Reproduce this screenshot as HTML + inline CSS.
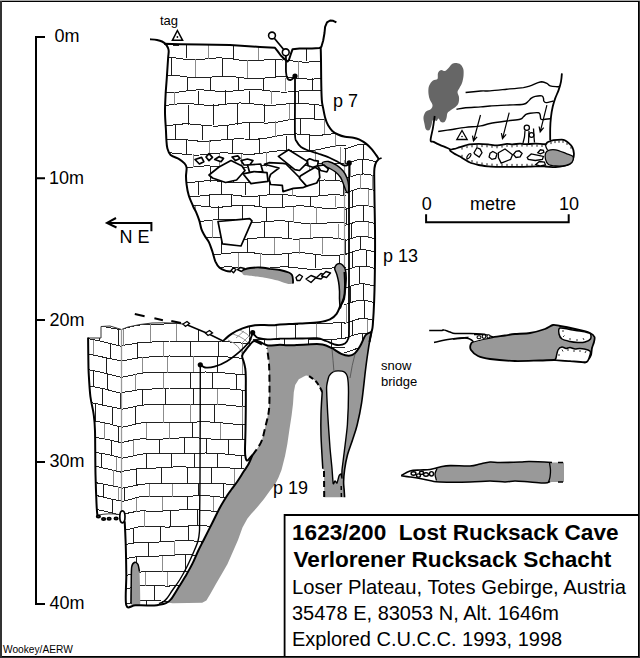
<!DOCTYPE html>
<html><head><meta charset="utf-8"><style>
html,body{margin:0;padding:0;background:#fff;overflow:hidden}
svg{display:block}
text{font-family:"Liberation Sans",sans-serif;fill:#000}
</style></head><body>
<svg width="640" height="658" viewBox="0 0 640 658">
<rect x="0" y="0" width="640" height="658" fill="#333"/>
<rect x="0" y="0" width="640" height="1" fill="#aaa"/>
<rect x="2" y="1" width="637" height="656" fill="#000"/>
<rect x="2" y="2" width="636" height="654" fill="#fff"/>

<defs><clipPath id="cu"><path d="M165,44 L200,44.5 230,45 260,47 275,48 278,51 281,55.5 285,59.5 288.9,61 290.7,54.2 292.6,49.3 299.5,48.6 312,48.4 320.7,48 321,60 321.2,80 321.8,100 323.2,108.4 325.3,118.3 328.1,125.3 332.3,130.9 338,134.5 345,136.8 353.4,137.7 359,139.4 366,143.6 371.7,149.2 376,154.9 378.8,159 375.5,163 374.2,175 374.5,200 375,230 375,260 374,300 372.5,325 371.5,332 365.7,335 360,346 354.4,353.8 348.8,355.7 341.3,353.8 331.9,348.2 322.5,344.4 307.5,344.4 288.8,345.3 270,347.2 267,346 262.8,343.3 256.6,340.6 254.3,340.9 250.1,344.6 245.8,349.9 242.1,355.6 243.7,361.6 245.3,369 245.8,377.6 245.8,405 245.5,430 245,450 245.5,457 247,461 248.7,463.8 244,471 237.5,481.2 231.4,489.5 227.5,495 220,507.5 212.5,522.5 204.3,538.7 198,551.2 192.3,563.9 185.3,576.6 178.3,587.8 171.2,599 166,603.2 151,605.6 135.6,605.2 126.3,605 126.3,575 125.7,543.8 124.7,521.4 123,519 116,520 98,518 97.4,515 96.5,503 95.5,474.5 95,431 93.6,413.8 90.4,396.5 88.7,373.4 88.3,355 88.1,338 101,338 101,326.5 110,326 121.5,329.5 128,327 140,324.5 152,323 164,322.8 176,323.2 186.2,324.5 208.9,334 223,341 231.6,333.9 242.5,328.4 255,325.3 264.4,325 273.8,325.3 280,324.5 300,323.5 318.8,322.2 330,319.4 336.6,313.8 340.3,306 344,298.8 345,285 345,272.5 341.5,265.5 337,266 335.6,268.8 330,271 318,272 307,274 296,274.5 293,276 288,272 275,269 260,268 245,267.5 232,270.5 226,270.9 219.6,267.7 215.3,261.3 212.1,250.6 208.9,242.1 204.7,235.7 201.5,229.4 199.4,220.9 196.2,212.3 193,206 188.7,195.3 186.6,184.7 186,176.2 186.6,167.7 184.5,163.4 179.1,159.1 170.6,154.9 167.4,148.5 166.4,140 166,131.2 165,113 165.6,94.7 166.9,76.5 168.1,58.2 168.7,51Z"/></clipPath></defs>
<path d="M165,44 L200,44.5 230,45 260,47 275,48 278,51 281,55.5 285,59.5 288.9,61 290.7,54.2 292.6,49.3 299.5,48.6 312,48.4 320.7,48 321,60 321.2,80 321.8,100 323.2,108.4 325.3,118.3 328.1,125.3 332.3,130.9 338,134.5 345,136.8 353.4,137.7 359,139.4 366,143.6 371.7,149.2 376,154.9 378.8,159 375.5,163 374.2,175 374.5,200 375,230 375,260 374,300 372.5,325 371.5,332 365.7,335 360,346 354.4,353.8 348.8,355.7 341.3,353.8 331.9,348.2 322.5,344.4 307.5,344.4 288.8,345.3 270,347.2 267,346 262.8,343.3 256.6,340.6 254.3,340.9 250.1,344.6 245.8,349.9 242.1,355.6 243.7,361.6 245.3,369 245.8,377.6 245.8,405 245.5,430 245,450 245.5,457 247,461 248.7,463.8 244,471 237.5,481.2 231.4,489.5 227.5,495 220,507.5 212.5,522.5 204.3,538.7 198,551.2 192.3,563.9 185.3,576.6 178.3,587.8 171.2,599 166,603.2 151,605.6 135.6,605.2 126.3,605 126.3,575 125.7,543.8 124.7,521.4 123,519 116,520 98,518 97.4,515 96.5,503 95.5,474.5 95,431 93.6,413.8 90.4,396.5 88.7,373.4 88.3,355 88.1,338 101,338 101,326.5 110,326 121.5,329.5 128,327 140,324.5 152,323 164,322.8 176,323.2 186.2,324.5 208.9,334 223,341 231.6,333.9 242.5,328.4 255,325.3 264.4,325 273.8,325.3 280,324.5 300,323.5 318.8,322.2 330,319.4 336.6,313.8 340.3,306 344,298.8 345,285 345,272.5 341.5,265.5 337,266 335.6,268.8 330,271 318,272 307,274 296,274.5 293,276 288,272 275,269 260,268 245,267.5 232,270.5 226,270.9 219.6,267.7 215.3,261.3 212.1,250.6 208.9,242.1 204.7,235.7 201.5,229.4 199.4,220.9 196.2,212.3 193,206 188.7,195.3 186.6,184.7 186,176.2 186.6,167.7 184.5,163.4 179.1,159.1 170.6,154.9 167.4,148.5 166.4,140 166,131.2 165,113 165.6,94.7 166.9,76.5 168.1,58.2 168.7,51Z" fill="#fff"/>
<g clip-path="url(#cu)" shape-rendering="crispEdges">
<path d="M160,43.8 L164,44.2 168,44.7 172,45 176,45.1 180,45 184,44.7 188,44.3 192,43.8 196,43.4 200,43 204,42.9 208,43 212,43.3 216,43.7 220,44.2 224,44.6 228,45 232,45.1 236,45 240,44.8 244,44.3 248,43.9 252,43.4 256,43.1 260,42.9 264,43 268,43.2 272,43.6 276,44.1 280,44.6 284,44.9 288,45.1 292,45.1 296,44.8 300,44.4 304,43.9 308,43.5 312,43.1 316,42.9 320,42.9 324,43.2 328,43.6 332,44 336,44.5 340,44.9 344,45.1 346,45.1" stroke="#222" stroke-width="1" fill="none"/>
<path d="M160,57 L164,57 168,57.1 172,57.5 176,58 180,58.5 184,59.1 188,59.4 192,59.6 196,59.6 200,59.4 204,59.1 208,58.6 212,58.3 216,58 220,57.9 224,58.1 228,58.4 232,58.9 236,59.5 240,60.1 244,60.5 248,60.8 252,60.8 256,60.7 260,60.3 264,60 268,59.6 272,59.4 276,59.3 280,59.4 284,59.8 288,60.3 292,60.9 296,61.4 300,61.9 304,62.1 308,62.1 312,61.8 316,61.4 320,61 324,60.5 328,60.1 332,59.9 336,59.9 340,60.2 344,60.5 346,60.8" stroke="#222" stroke-width="1" fill="none"/>
<path d="M160,75.4 L164,75.1 168,75.1 172,75.2 176,75.5 180,76 184,76.6 188,77.1 192,77.6 196,77.8 200,77.8 204,77.7 208,77.4 212,77 216,76.6 220,76.3 224,76.2 228,76.3 232,76.6 236,77 240,77.5 244,78 248,78.4 252,78.7 256,78.7 260,78.5 264,78.1 268,77.7 272,77.3 276,76.9 280,76.8 284,76.8 288,77 292,77.4 296,78 300,78.5 304,78.8 308,79.1 312,79.1 316,78.9 320,78.5 324,78 328,77.6 332,77.2 336,76.9 340,76.9 344,77.1 346,77.3" stroke="#222" stroke-width="1" fill="none"/>
<path d="M160,92.6 L164,92.8 168,92.9 172,92.7 176,92.4 180,91.9 184,91.3 188,90.8 192,90.3 196,90 200,89.9 204,90 208,90.3 212,90.7 216,91.1 220,91.3 224,91.4 228,91.3 232,91.1 236,90.8 240,90.4 244,90 248,89.6 252,89.5 256,89.5 260,89.8 264,90.2 268,90.8 272,91.3 276,91.8 280,92 284,92.1 288,92 292,91.7 296,91.3 300,90.9 304,90.5 308,90.2 312,90.1 316,90.3 320,90.6 324,91 328,91.5 332,91.9 336,92.1 340,92.2 344,92 346,91.8" stroke="#222" stroke-width="1" fill="none"/>
<path d="M160,106 L164,105.6 168,105.1 172,104.6 176,104.1 180,103.7 184,103.6 188,103.6 192,103.8 196,104.2 200,104.6 204,105 208,105.3 212,105.4 216,105.2 220,104.9 224,104.4 228,103.8 232,103.4 236,103.1 240,103 244,103.1 248,103.4 252,103.8 256,104.3 260,104.8 264,105.1 268,105.3 272,105.3 276,105 280,104.6 284,104.2 288,103.8 292,103.4 296,103.3 300,103.4 304,103.6 308,103.9 312,104.4 316,104.8 320,105.1 324,105.3 328,105.2 332,105 336,104.5 340,104 344,103.5 346,103.3" stroke="#222" stroke-width="1" fill="none"/>
<path d="M160,126.1 L164,125.9 168,125.5 172,125.1 176,124.6 180,124.2 184,123.9 188,123.9 192,124.1 196,124.4 200,124.9 204,125.4 208,125.8 212,126 216,126.1 220,125.9 224,125.6 228,125.1 232,124.5 236,123.8 240,123.2 244,122.8 248,122.6 252,122.6 256,122.8 260,122.9 264,123 268,123 272,122.7 276,122.3 280,121.6 284,120.9 288,120.1 292,119.3 296,118.7 300,118.3 304,118.3 308,118.5 312,118.8 316,119.2 320,119.5 324,119.7 328,119.7 332,119.5 336,119.1 340,118.5 344,117.9 346,117.7" stroke="#222" stroke-width="1" fill="none"/>
<path d="M160,140.1 L164,139.7 168,139.3 172,139 176,139 180,139.2 184,139.5 188,140 192,140.5 196,140.9 200,141.2 204,141.3 208,141.2 212,140.9 216,140.5 220,140.1 224,139.7 228,139.4 232,139.1 236,138.9 240,138.9 244,139 248,139.1 252,139.2 256,139.2 260,138.9 264,138.5 268,137.8 272,137.1 276,136.2 280,135.5 284,134.8 288,134.3 292,134.1 296,134 300,134.1 304,134.5 308,134.9 312,135.2 316,135.3 320,135.2 324,134.9 328,134.4 332,133.9 336,133.4 340,133 344,132.8 346,132.8" stroke="#222" stroke-width="1" fill="none"/>
<path d="M160,153.3 L164,153 168,152.9 172,153 176,153.4 180,153.8 184,154.3 188,154.7 192,155 196,155.1 200,155 204,154.7 208,154.2 212,153.7 216,153.3 220,153 224,152.9 228,153 232,153.2 236,153.5 240,153.8 244,154.1 248,154.2 252,154.2 256,153.9 260,153.4 264,152.8 268,152.2 272,151.6 276,151.1 280,150.8 284,150.7 288,150.8 292,151 296,151.3 300,151.6 304,151.5 308,151.2 312,150.7 316,150 320,149.2 324,148.2 328,147.3 332,146.6 336,145.9 340,145.6 344,145.4 346,145.3" stroke="#222" stroke-width="1" fill="none"/>
<path d="M160,166.5 L164,167 168,167.4 172,167.8 176,168.1 180,168.1 184,167.9 188,167.5 192,167.1 196,166.6 200,166.2 204,166 208,165.9 212,166.1 216,166.4 220,166.9 224,167.4 228,167.8 232,168 236,168 240,167.8 244,167.4 248,166.9 252,166.3 256,165.9 260,165.5 264,165.4 268,165.5 272,165.8 276,166.2 280,166.6 284,167 288,167.2 292,167.2 296,167 300,166.7 304,165.9 308,165.1 312,164.3 316,163.7 320,163.3 324,163.1 328,163.1 332,163.2 336,163.4 340,163.5 344,163.5 346,163.4" stroke="#222" stroke-width="1" fill="none"/>
<path d="M160,181.1 L164,181.5 168,182 172,182.4 176,182.8 180,183 184,183 188,182.8 192,182.4 196,181.9 200,181.4 204,181 208,180.7 212,180.7 216,180.9 220,181.2 224,181.7 228,182.1 232,182.5 236,182.7 240,182.8 244,182.6 248,182.3 252,181.8 256,181.3 260,180.9 264,180.7 268,180.6 272,180.8 276,181.1 280,181.6 284,182 288,182.5 292,182.7 296,182.8 300,182.7 304,182.2 308,181.7 312,181.1 316,180.6 320,180.2 324,180 328,180.1 332,180.3 336,180.6 340,181 344,181.4 346,181.5" stroke="#222" stroke-width="1" fill="none"/>
<path d="M160,194.1 L164,193.9 168,194 172,194.3 176,194.7 180,195.2 184,195.7 188,196 192,196.2 196,196.2 200,196 204,195.6 208,195.1 212,194.7 216,194.3 220,194.2 224,194.2 228,194.5 232,194.9 236,195.4 240,195.9 244,196.2 248,196.4 252,196.4 256,196.2 260,195.8 264,195.4 268,194.9 272,194.5 276,194.4 280,194.4 284,194.6 288,195 292,195.5 296,196 300,196.3 304,196.6 308,196.7 312,196.5 316,196.2 320,195.7 324,195.3 328,195 332,194.8 336,194.8 340,195 344,195.4 346,195.6" stroke="#222" stroke-width="1" fill="none"/>
<path d="M160,207.1 L164,207 168,206.7 172,206.2 176,205.7 180,205.3 184,205.1 188,205 192,205.1 196,205.4 200,205.9 204,206.4 208,206.8 212,207.1 216,207.3 220,207.2 224,206.9 228,206.4 232,206 236,205.6 240,205.3 244,205.3 248,205.4 252,205.7 256,206.2 260,206.8 264,207.2 268,207.6 272,207.8 276,207.7 280,207.5 284,207.1 288,206.7 292,206.3 296,206 300,205.9 304,206 308,206.3 312,206.8 316,207.3 320,207.8 324,208.2 328,208.4 332,208.4 336,208.1 340,207.8 344,207.3 346,207.1" stroke="#222" stroke-width="1" fill="none"/>
<path d="M160,219.4 L164,219.1 168,218.9 172,219 176,219.3 180,219.7 184,220.2 188,220.7 192,221.1 196,221.2 200,221.2 204,221 208,220.6 212,220.1 216,219.7 220,219.4 224,219.2 228,219.2 232,219.5 236,220.1 240,220.7 244,221.3 248,221.7 252,222.1 256,222.2 260,222.1 264,221.8 268,221.5 272,221.1 276,220.9 280,220.8 284,220.9 288,221.3 292,221.8 296,222.3 300,222.9 304,223.5 308,223.8 312,223.9 316,223.9 320,223.6 324,223.3 328,222.9 332,222.6 336,222.5 340,222.6 344,222.9 346,223.1" stroke="#222" stroke-width="1" fill="none"/>
<path d="M160,237 L164,237.4 168,237.9 172,238.4 176,238.8 180,239.1 184,239.2 188,239.1 192,238.8 196,238.4 200,238 204,237.6 208,237.3 212,237.2 216,237.3 220,237.7 224,238.1 228,238.6 232,239.1 236,239.3 240,239.4 244,239.3 248,239 252,238.6 256,238.1 260,237.6 264,237.2 268,237.1 272,237.1 276,237.4 280,237.8 284,238.3 288,238.7 292,239 296,239.1 300,239 304,238.8 308,238.5 312,238.1 316,237.7 320,237.5 324,237.4 328,237.5 332,237.9 336,238.3 340,238.9 344,239.4 346,239.7" stroke="#222" stroke-width="1" fill="none"/>
<path d="M160,254.1 L164,253.9 168,253.6 172,253.1 176,252.7 180,252.3 184,252 188,252 192,252.2 196,252.5 200,253 204,253.5 208,253.9 212,254.2 216,254.3 220,254.1 224,253.8 228,253.4 232,252.9 236,252.5 240,252.3 244,252.2 248,252.4 252,252.7 256,253.2 260,253.7 264,254.2 268,254.5 272,254.6 276,254.5 280,254.3 284,253.8 288,253.4 292,253 296,252.7 300,252.7 304,252.9 308,253.3 312,253.8 316,254.4 320,254.9 324,255.3 328,255.5 332,255.6 336,255.4 340,255 344,254.7 346,254.5" stroke="#222" stroke-width="1" fill="none"/>
<path d="M160,267.7 L164,267.2 168,267 172,266.9 176,267 180,267.4 184,267.8 188,268.3 192,268.7 196,269 200,269.1 204,269 208,268.6 212,268.2 216,267.7 220,267.3 224,267 228,266.9 232,267 236,267.3 240,267.8 244,268.2 248,268.7 252,269 256,269.1 260,269 264,268.7 268,268.3 272,267.8 276,267.3 280,267 284,266.9 288,267 292,267.3 296,267.7 300,268.2 304,268.7 308,269.1 312,269.3 316,269.3 320,269.2 324,268.8 328,268.4 332,268 336,267.8 340,267.7 344,267.8 346,268" stroke="#222" stroke-width="1" fill="none"/>
<path d="M186.5,44 L186.5,58.4" stroke="#1e1e1e" stroke-width="1" fill="none"/>
<path d="M208.5,44 L208.5,58.8" stroke="#8c8c8c" stroke-width="1" fill="none"/>
<path d="M233.5,44 L233.5,59.3" stroke="#1e1e1e" stroke-width="1" fill="none"/>
<path d="M258.5,44 L258.5,59.9" stroke="#8c8c8c" stroke-width="1" fill="none"/>
<path d="M282.5,44 L282.5,60.5" stroke="#8c8c8c" stroke-width="1" fill="none"/>
<path d="M306.5,44 L306.5,61" stroke="#1e1e1e" stroke-width="1" fill="none"/>
<path d="M331.5,44 L331.5,61" stroke="#8c8c8c" stroke-width="1" fill="none"/>
<path d="M171.5,58.2 L171.5,76.2" stroke="#1e1e1e" stroke-width="1" fill="none"/>
<path d="M195.5,58.6 L195.5,76.7" stroke="#8c8c8c" stroke-width="1" fill="none"/>
<path d="M222.5,59.1 L222.5,77.2" stroke="#1e1e1e" stroke-width="1" fill="none"/>
<path d="M247.5,59.6 L247.5,77.5" stroke="#8c8c8c" stroke-width="1" fill="none"/>
<path d="M275.5,60.4 L275.5,77.8" stroke="#1e1e1e" stroke-width="1" fill="none"/>
<path d="M298.5,61 L298.5,78" stroke="#8c8c8c" stroke-width="1" fill="none"/>
<path d="M324.5,61 L324.5,78" stroke="#1e1e1e" stroke-width="1" fill="none"/>
<path d="M187.5,76.5 L187.5,91.3" stroke="#1e1e1e" stroke-width="1" fill="none"/>
<path d="M210.5,77 L210.5,90.7" stroke="#1e1e1e" stroke-width="1" fill="none"/>
<path d="M238.5,77.5 L238.5,90.3" stroke="#1e1e1e" stroke-width="1" fill="none"/>
<path d="M263.5,77.7 L263.5,90.7" stroke="#1e1e1e" stroke-width="1" fill="none"/>
<path d="M285.5,77.9 L285.5,91.1" stroke="#8c8c8c" stroke-width="1" fill="none"/>
<path d="M312.5,78 L312.5,91.2" stroke="#1e1e1e" stroke-width="1" fill="none"/>
<path d="M335.5,78 L335.5,91.1" stroke="#1e1e1e" stroke-width="1" fill="none"/>
<path d="M174.5,91.7 L174.5,104.8" stroke="#8c8c8c" stroke-width="1" fill="none"/>
<path d="M198.5,91 L198.5,104.5" stroke="#1e1e1e" stroke-width="1" fill="none"/>
<path d="M225.5,90.3 L225.5,104.1" stroke="#1e1e1e" stroke-width="1" fill="none"/>
<path d="M249.5,90.5 L249.5,104.1" stroke="#1e1e1e" stroke-width="1" fill="none"/>
<path d="M271.5,90.9 L271.5,104.2" stroke="#8c8c8c" stroke-width="1" fill="none"/>
<path d="M298.5,91.3 L298.5,104.4" stroke="#1e1e1e" stroke-width="1" fill="none"/>
<path d="M323.5,91.2 L323.5,104.2" stroke="#8c8c8c" stroke-width="1" fill="none"/>
<path d="M188.5,104.6 L188.5,125" stroke="#1e1e1e" stroke-width="1" fill="none"/>
<path d="M213.5,104.2 L213.5,125" stroke="#1e1e1e" stroke-width="1" fill="none"/>
<path d="M237.5,104 L237.5,124.5" stroke="#1e1e1e" stroke-width="1" fill="none"/>
<path d="M264.5,104.2 L264.5,122.3" stroke="#1e1e1e" stroke-width="1" fill="none"/>
<path d="M289.5,104.3 L289.5,120.3" stroke="#8c8c8c" stroke-width="1" fill="none"/>
<path d="M314.5,104.3 L314.5,119" stroke="#1e1e1e" stroke-width="1" fill="none"/>
<path d="M336.5,104.1 L336.5,118.4" stroke="#1e1e1e" stroke-width="1" fill="none"/>
<path d="M175.5,125 L175.5,140.1" stroke="#1e1e1e" stroke-width="1" fill="none"/>
<path d="M202.5,125 L202.5,140.2" stroke="#1e1e1e" stroke-width="1" fill="none"/>
<path d="M227.5,125 L227.5,140.4" stroke="#1e1e1e" stroke-width="1" fill="none"/>
<path d="M249.5,123.4 L249.5,138.7" stroke="#1e1e1e" stroke-width="1" fill="none"/>
<path d="M275.5,121.4 L275.5,136.6" stroke="#8c8c8c" stroke-width="1" fill="none"/>
<path d="M300.5,119.4 L300.5,134.4" stroke="#1e1e1e" stroke-width="1" fill="none"/>
<path d="M324.5,118.7 L324.5,134.1" stroke="#8c8c8c" stroke-width="1" fill="none"/>
<path d="M186.5,140.2 L186.5,154" stroke="#1e1e1e" stroke-width="1" fill="none"/>
<path d="M209.5,140.3 L209.5,154" stroke="#8c8c8c" stroke-width="1" fill="none"/>
<path d="M232.5,140.3 L232.5,153.9" stroke="#1e1e1e" stroke-width="1" fill="none"/>
<path d="M259.5,137.9 L259.5,152.8" stroke="#1e1e1e" stroke-width="1" fill="none"/>
<path d="M286.5,135.6 L286.5,151.6" stroke="#1e1e1e" stroke-width="1" fill="none"/>
<path d="M309.5,134.3 L309.5,150" stroke="#1e1e1e" stroke-width="1" fill="none"/>
<path d="M335.5,134 L335.5,147.1" stroke="#8c8c8c" stroke-width="1" fill="none"/>
<path d="M170.5,154 L170.5,167" stroke="#1e1e1e" stroke-width="1" fill="none"/>
<path d="M193.5,154 L193.5,167" stroke="#8c8c8c" stroke-width="1" fill="none"/>
<path d="M219.5,154 L219.5,167" stroke="#8c8c8c" stroke-width="1" fill="none"/>
<path d="M241.5,153.5 L241.5,166.8" stroke="#8c8c8c" stroke-width="1" fill="none"/>
<path d="M266.5,152.4 L266.5,166.5" stroke="#8c8c8c" stroke-width="1" fill="none"/>
<path d="M290.5,151.4 L290.5,166.1" stroke="#1e1e1e" stroke-width="1" fill="none"/>
<path d="M315.5,149.4 L315.5,164.8" stroke="#8c8c8c" stroke-width="1" fill="none"/>
<path d="M340.5,146.6 L340.5,162.8" stroke="#8c8c8c" stroke-width="1" fill="none"/>
<path d="M183.5,167 L183.5,181.9" stroke="#8c8c8c" stroke-width="1" fill="none"/>
<path d="M210.5,167 L210.5,181.8" stroke="#1e1e1e" stroke-width="1" fill="none"/>
<path d="M233.5,167 L233.5,181.7" stroke="#1e1e1e" stroke-width="1" fill="none"/>
<path d="M260.5,166.6 L260.5,181.7" stroke="#8c8c8c" stroke-width="1" fill="none"/>
<path d="M282.5,166.3 L282.5,181.7" stroke="#8c8c8c" stroke-width="1" fill="none"/>
<path d="M309.5,165.3 L309.5,181.5" stroke="#8c8c8c" stroke-width="1" fill="none"/>
<path d="M335.5,163.2 L335.5,180.9" stroke="#1e1e1e" stroke-width="1" fill="none"/>
<path d="M171.5,182 L171.5,195" stroke="#1e1e1e" stroke-width="1" fill="none"/>
<path d="M198.5,181.8 L198.5,195.2" stroke="#1e1e1e" stroke-width="1" fill="none"/>
<path d="M221.5,181.7 L221.5,195.3" stroke="#1e1e1e" stroke-width="1" fill="none"/>
<path d="M245.5,181.7 L245.5,195.3" stroke="#1e1e1e" stroke-width="1" fill="none"/>
<path d="M269.5,181.7 L269.5,195.4" stroke="#1e1e1e" stroke-width="1" fill="none"/>
<path d="M292.5,181.7 L292.5,195.5" stroke="#8c8c8c" stroke-width="1" fill="none"/>
<path d="M319.5,181.2 L319.5,195.7" stroke="#1e1e1e" stroke-width="1" fill="none"/>
<path d="M343.5,180.7 L343.5,195.9" stroke="#1e1e1e" stroke-width="1" fill="none"/>
<path d="M163.5,195 L163.5,206" stroke="#1e1e1e" stroke-width="1" fill="none"/>
<path d="M187.5,195.1 L187.5,206.1" stroke="#8c8c8c" stroke-width="1" fill="none"/>
<path d="M209.5,195.2 L209.5,206.1" stroke="#1e1e1e" stroke-width="1" fill="none"/>
<path d="M231.5,195.3 L231.5,206.2" stroke="#1e1e1e" stroke-width="1" fill="none"/>
<path d="M259.5,195.4 L259.5,206.5" stroke="#1e1e1e" stroke-width="1" fill="none"/>
<path d="M282.5,195.4 L282.5,206.8" stroke="#1e1e1e" stroke-width="1" fill="none"/>
<path d="M310.5,195.6 L310.5,207.1" stroke="#1e1e1e" stroke-width="1" fill="none"/>
<path d="M335.5,195.9 L335.5,207.4" stroke="#8c8c8c" stroke-width="1" fill="none"/>
<path d="M171.5,206 L171.5,220" stroke="#1e1e1e" stroke-width="1" fill="none"/>
<path d="M195.5,206.1 L195.5,220.2" stroke="#8c8c8c" stroke-width="1" fill="none"/>
<path d="M218.5,206.2 L218.5,220.2" stroke="#1e1e1e" stroke-width="1" fill="none"/>
<path d="M242.5,206.3 L242.5,220.7" stroke="#1e1e1e" stroke-width="1" fill="none"/>
<path d="M266.5,206.6 L266.5,221.4" stroke="#1e1e1e" stroke-width="1" fill="none"/>
<path d="M293.5,206.9 L293.5,222.3" stroke="#8c8c8c" stroke-width="1" fill="none"/>
<path d="M316.5,207.2 L316.5,223" stroke="#8c8c8c" stroke-width="1" fill="none"/>
<path d="M344.5,207.4 L344.5,223.8" stroke="#1e1e1e" stroke-width="1" fill="none"/>
<path d="M184.5,220.1 L184.5,238.1" stroke="#1e1e1e" stroke-width="1" fill="none"/>
<path d="M212.5,220.2 L212.5,238.3" stroke="#8c8c8c" stroke-width="1" fill="none"/>
<path d="M239.5,220.6 L239.5,238.3" stroke="#1e1e1e" stroke-width="1" fill="none"/>
<path d="M264.5,221.4 L264.5,238.2" stroke="#1e1e1e" stroke-width="1" fill="none"/>
<path d="M288.5,222.1 L288.5,238.1" stroke="#1e1e1e" stroke-width="1" fill="none"/>
<path d="M310.5,222.8 L310.5,238.2" stroke="#8c8c8c" stroke-width="1" fill="none"/>
<path d="M338.5,223.6 L338.5,238.8" stroke="#8c8c8c" stroke-width="1" fill="none"/>
<path d="M173.5,238.1 L173.5,253" stroke="#1e1e1e" stroke-width="1" fill="none"/>
<path d="M197.5,238.2 L197.5,253.1" stroke="#8c8c8c" stroke-width="1" fill="none"/>
<path d="M221.5,238.3 L221.5,253.2" stroke="#1e1e1e" stroke-width="1" fill="none"/>
<path d="M247.5,238.3 L247.5,253.3" stroke="#1e1e1e" stroke-width="1" fill="none"/>
<path d="M274.5,238.1 L274.5,253.5" stroke="#8c8c8c" stroke-width="1" fill="none"/>
<path d="M299.5,238 L299.5,253.7" stroke="#8c8c8c" stroke-width="1" fill="none"/>
<path d="M322.5,238.4 L322.5,254.3" stroke="#8c8c8c" stroke-width="1" fill="none"/>
<path d="M162.5,253 L162.5,268" stroke="#1e1e1e" stroke-width="1" fill="none"/>
<path d="M186.5,253.1 L186.5,268" stroke="#1e1e1e" stroke-width="1" fill="none"/>
<path d="M212.5,253.1 L212.5,268" stroke="#8c8c8c" stroke-width="1" fill="none"/>
<path d="M238.5,253.3 L238.5,268" stroke="#8c8c8c" stroke-width="1" fill="none"/>
<path d="M260.5,253.4 L260.5,268" stroke="#8c8c8c" stroke-width="1" fill="none"/>
<path d="M288.5,253.7 L288.5,268" stroke="#1e1e1e" stroke-width="1" fill="none"/>
<path d="M315.5,254.1 L315.5,268.3" stroke="#1e1e1e" stroke-width="1" fill="none"/>
<path d="M339.5,254.7 L339.5,268.8" stroke="#1e1e1e" stroke-width="1" fill="none"/>
<path d="M344,149 L348,147.9 352,146.6 356,145.2 360,144.5 364,144.4 368,144.8 372,145.7 376,147 377,147.4" stroke="#222" stroke-width="1" fill="none"/>
<path d="M344,164 L348,162.9 352,161.6 356,160.2 360,159.5 364,159.4 368,159.8 372,160.7 376,162 377,162.4" stroke="#222" stroke-width="1" fill="none"/>
<path d="M344,178.9 L348,177.7 352,176.3 356,174.9 360,174.1 364,174 368,174.4 372,175.3 376,176.7 377,177" stroke="#222" stroke-width="1" fill="none"/>
<path d="M344,193.3 L348,192.1 352,190.7 356,189.2 360,188.5 364,188.3 368,188.7 372,189.6 376,191 377,191.4" stroke="#222" stroke-width="1" fill="none"/>
<path d="M344,209.7 L348,208.6 352,207.3 356,205.9 360,205.3 364,205.2 368,205.7 372,206.6 376,208 377,208.3" stroke="#222" stroke-width="1" fill="none"/>
<path d="M344,225.6 L348,224.5 352,223.2 356,221.8 360,221.3 364,221.2 368,221.7 372,222.7 376,224.1 377,224.4" stroke="#222" stroke-width="1" fill="none"/>
<path d="M344,240.8 L348,239.6 352,238.3 356,237 360,236.4 364,236.4 368,236.9 372,237.9 376,239.3 377,239.7" stroke="#222" stroke-width="1" fill="none"/>
<path d="M344,254.8 L348,253.5 352,252.1 356,250.6 360,249.9 364,249.8 368,250.3 372,251.3 376,252.8 377,253.2" stroke="#222" stroke-width="1" fill="none"/>
<path d="M344,270.5 L348,269.3 352,268 356,266.6 360,266 364,266 368,266.6 372,267.6 376,269 377,269.4" stroke="#222" stroke-width="1" fill="none"/>
<path d="M344,288.3 L348,287.1 352,285.8 356,284.4 360,283.8 364,283.8 368,284.4 372,285.4 376,286.8 377,287.2" stroke="#222" stroke-width="1" fill="none"/>
<path d="M344,304.8 L348,303.6 352,302.2 356,300.9 360,300.3 364,300.3 368,300.9 372,301.9 376,303.3 377,303.7" stroke="#222" stroke-width="1" fill="none"/>
<path d="M344,323.6 L348,322.4 352,321 356,319.5 360,318.7 364,318.5 368,319 372,319.9 376,321.4 377,321.7" stroke="#222" stroke-width="1" fill="none"/>
<path d="M344,338.5 L348,337.2 352,335.8 356,334.3 360,333.6 364,333.6 368,334.2 372,335.2 376,336.7 377,337.1" stroke="#222" stroke-width="1" fill="none"/>
<path d="M344,353 L348,351.7 352,350.3 356,348.8 360,348.1 364,348.1 368,348.6 372,349.7 376,351.2 377,351.6" stroke="#222" stroke-width="1" fill="none"/>
<path d="M345.5,148.6 L345.5,163.6" stroke="#1e1e1e" stroke-width="1" fill="none"/>
<path d="M363.5,144.1 L363.5,159.1" stroke="#1e1e1e" stroke-width="1" fill="none"/>
<path d="M350.5,162.1 L350.5,176.8" stroke="#8c8c8c" stroke-width="1" fill="none"/>
<path d="M362.5,159 L362.5,173.7" stroke="#1e1e1e" stroke-width="1" fill="none"/>
<path d="M376.5,162.2 L376.5,176.9" stroke="#8c8c8c" stroke-width="1" fill="none"/>
<path d="M360.5,174.1 L360.5,188.5" stroke="#8c8c8c" stroke-width="1" fill="none"/>
<path d="M372.5,175.3 L372.5,189.7" stroke="#8c8c8c" stroke-width="1" fill="none"/>
<path d="M352.5,190.7 L352.5,207.4" stroke="#1e1e1e" stroke-width="1" fill="none"/>
<path d="M368.5,188.8 L368.5,205.5" stroke="#8c8c8c" stroke-width="1" fill="none"/>
<path d="M346.5,209.3 L346.5,225.3" stroke="#1e1e1e" stroke-width="1" fill="none"/>
<path d="M363.5,205 L363.5,221" stroke="#1e1e1e" stroke-width="1" fill="none"/>
<path d="M351.5,223.7 L351.5,238.9" stroke="#1e1e1e" stroke-width="1" fill="none"/>
<path d="M368.5,221.6 L368.5,236.8" stroke="#8c8c8c" stroke-width="1" fill="none"/>
<path d="M345.5,240.6 L345.5,254.3" stroke="#1e1e1e" stroke-width="1" fill="none"/>
<path d="M360.5,236.3 L360.5,250" stroke="#1e1e1e" stroke-width="1" fill="none"/>
<path d="M352.5,252.3 L352.5,268.3" stroke="#1e1e1e" stroke-width="1" fill="none"/>
<path d="M366.5,250.2 L366.5,266.2" stroke="#1e1e1e" stroke-width="1" fill="none"/>
<path d="M359.5,266.2 L359.5,284" stroke="#1e1e1e" stroke-width="1" fill="none"/>
<path d="M376.5,268.7 L376.5,286.5" stroke="#1e1e1e" stroke-width="1" fill="none"/>
<path d="M350.5,286.5 L350.5,303" stroke="#1e1e1e" stroke-width="1" fill="none"/>
<path d="M363.5,283.7 L363.5,300.2" stroke="#1e1e1e" stroke-width="1" fill="none"/>
<path d="M346.5,304.3 L346.5,322.7" stroke="#8c8c8c" stroke-width="1" fill="none"/>
<path d="M364.5,300.3 L364.5,318.7" stroke="#1e1e1e" stroke-width="1" fill="none"/>
<path d="M352.5,321 L352.5,336.1" stroke="#1e1e1e" stroke-width="1" fill="none"/>
<path d="M367.5,319 L367.5,334.1" stroke="#8c8c8c" stroke-width="1" fill="none"/>
<path d="M362.5,333.6 L362.5,348.1" stroke="#1e1e1e" stroke-width="1" fill="none"/>
<path d="M374.5,336 L374.5,350.5" stroke="#1e1e1e" stroke-width="1" fill="none"/>
<path d="M253,324.6 L257,324.5 261,324.5 265,324.5 269,324.6 273,324.7 277,324.8 281,324.8 285,324.7 289,324.5 293,324.3 297,324.1 301,323.8 305,323.5 309,323.3 313,323.1 317,323 321,323 325,323 329,323 333,323 337,322.9 341,322.8 345,322.5" stroke="#222" stroke-width="1" fill="none"/>
<path d="M253,339 L257,339.2 261,339.3 265,339.4 269,339.4 273,339.3 277,339.1 281,339 285,338.8 289,338.7 293,338.6 297,338.6 301,338.7 305,338.8 309,339 313,339.2 317,339.3 321,339.4 325,339.4 329,339.3 333,339.2 337,339 341,338.8 345,338.7" stroke="#222" stroke-width="1" fill="none"/>
<path d="M253,345.7 L257,345.8 261,346 265,346.1 269,346.3 273,346.4 277,346.4 281,346.3 285,346.2 289,346 293,345.9 297,345.7 301,345.7 305,345.8 309,346 313,346.3 317,346.6 321,347 325,347.3 329,347.5 333,347.7 337,347.8 341,347.9 345,347.9" stroke="#222" stroke-width="1" fill="none"/>
<path d="M276.5,324.5 L276.5,339" stroke="#8c8c8c" stroke-width="1" fill="none"/>
<path d="M295.5,324.1 L295.5,339" stroke="#1e1e1e" stroke-width="1" fill="none"/>
<path d="M316.5,323.4 L316.5,339" stroke="#8c8c8c" stroke-width="1" fill="none"/>
<path d="M341.5,322.4 L341.5,339" stroke="#1e1e1e" stroke-width="1" fill="none"/>
<path d="M264.5,339 L264.5,346" stroke="#1e1e1e" stroke-width="1" fill="none"/>
<path d="M284.5,339 L284.5,346" stroke="#1e1e1e" stroke-width="1" fill="none"/>
<path d="M308.5,339 L308.5,346.3" stroke="#1e1e1e" stroke-width="1" fill="none"/>
<path d="M331.5,339 L331.5,347.3" stroke="#1e1e1e" stroke-width="1" fill="none"/>
<path d="M86,326.2 L90,326.2 94,326.3 98,326.4 102,326.6 106,327 110,327.8 114,328.5 118,329.2 121.5,329.7" stroke="#222" stroke-width="1" fill="none"/>
<path d="M86,338.3 L90,339 94,339.8 98,340.6 102,341.4 106,342.4 110,343.5 114,344.5 118,345.5 121.5,346.3" stroke="#222" stroke-width="1" fill="none"/>
<path d="M86,353.4 L90,354.3 94,355.2 98,356.1 102,356.9 106,357.8 110,358.6 114,359.4 118,360.2 121.5,360.9" stroke="#222" stroke-width="1" fill="none"/>
<path d="M86,369.2 L90,370 94,370.8 98,371.6 102,372.5 106,373.5 110,374.5 114,375.5 118,376.5 121.5,377.3" stroke="#222" stroke-width="1" fill="none"/>
<path d="M86,385.3 L90,386 94,386.8 98,387.5 102,388.4 106,389.3 110,390.4 114,391.4 118,392.4 121.5,393.3" stroke="#222" stroke-width="1" fill="none"/>
<path d="M86,401.4 L90,402.3 94,403.2 98,404.1 102,404.9 106,405.8 110,406.6 114,407.4 118,408.2 121.5,408.9" stroke="#222" stroke-width="1" fill="none"/>
<path d="M86,419.6 L90,420.3 94,420.9 98,421.6 102,422.3 106,423.2 110,424.1 114,425.2 118,426.2 121.5,427.1" stroke="#222" stroke-width="1" fill="none"/>
<path d="M86,435.8 L90,436.5 94,437.1 98,437.8 102,438.4 106,439.2 110,440.1 114,441 118,442 121.5,442.9" stroke="#222" stroke-width="1" fill="none"/>
<path d="M86,450.8 L90,451.5 94,452.2 98,452.8 102,453.5 106,454.2 110,455.1 114,456 118,457 121.5,457.8" stroke="#222" stroke-width="1" fill="none"/>
<path d="M86,464.2 L90,465 94,465.9 98,466.7 102,467.7 106,468.6 110,469.6 114,470.6 118,471.5 121.5,472.2" stroke="#222" stroke-width="1" fill="none"/>
<path d="M86,480.6 L90,481.5 94,482.3 98,483.1 102,483.9 106,484.6 110,485.4 114,486.2 118,487 121.5,487.7" stroke="#222" stroke-width="1" fill="none"/>
<path d="M86,493.2 L90,494.1 94,494.9 98,495.9 102,496.8 106,497.7 110,498.7 114,499.6 118,500.4 121.5,501.1" stroke="#222" stroke-width="1" fill="none"/>
<path d="M86,507.2 L90,508 94,508.8 98,509.7 102,510.6 106,511.5 110,512.6 114,513.6 118,514.5 121.5,515.3" stroke="#222" stroke-width="1" fill="none"/>
<path d="M99.5,326.5 L99.5,341" stroke="#1e1e1e" stroke-width="1" fill="none"/>
<path d="M118.5,328.9 L118.5,345.2" stroke="#1e1e1e" stroke-width="1" fill="none"/>
<path d="M93.5,339.8 L93.5,354.8" stroke="#8c8c8c" stroke-width="1" fill="none"/>
<path d="M110.5,343.5 L110.5,358.5" stroke="#1e1e1e" stroke-width="1" fill="none"/>
<path d="M88.5,353.9 L88.5,369.9" stroke="#8c8c8c" stroke-width="1" fill="none"/>
<path d="M106.5,357.4 L106.5,373.4" stroke="#1e1e1e" stroke-width="1" fill="none"/>
<path d="M93.5,370.8 L93.5,386.8" stroke="#1e1e1e" stroke-width="1" fill="none"/>
<path d="M107.5,373.7 L107.5,389.7" stroke="#1e1e1e" stroke-width="1" fill="none"/>
<path d="M102.5,388.6 L102.5,404.6" stroke="#1e1e1e" stroke-width="1" fill="none"/>
<path d="M120.5,392.5 L120.5,408.5" stroke="#1e1e1e" stroke-width="1" fill="none"/>
<path d="M95.5,403.2 L95.5,421.2" stroke="#1e1e1e" stroke-width="1" fill="none"/>
<path d="M112.5,406.9 L112.5,424.9" stroke="#1e1e1e" stroke-width="1" fill="none"/>
<path d="M104.5,422.9 L104.5,438.9" stroke="#8c8c8c" stroke-width="1" fill="none"/>
<path d="M118.5,426.2 L118.5,442.2" stroke="#1e1e1e" stroke-width="1" fill="none"/>
<path d="M95.5,437.2 L95.5,452.2" stroke="#1e1e1e" stroke-width="1" fill="none"/>
<path d="M111.5,440.5 L111.5,455.5" stroke="#1e1e1e" stroke-width="1" fill="none"/>
<path d="M101.5,453.4 L101.5,467.4" stroke="#1e1e1e" stroke-width="1" fill="none"/>
<path d="M116.5,456.8 L116.5,470.8" stroke="#8c8c8c" stroke-width="1" fill="none"/>
<path d="M93.5,465.9 L93.5,481.9" stroke="#1e1e1e" stroke-width="1" fill="none"/>
<path d="M113.5,470 L113.5,486" stroke="#8c8c8c" stroke-width="1" fill="none"/>
<path d="M103.5,483.8 L103.5,496.8" stroke="#1e1e1e" stroke-width="1" fill="none"/>
<path d="M118.5,487.3 L118.5,500.3" stroke="#8c8c8c" stroke-width="1" fill="none"/>
<path d="M94.5,495.1 L94.5,509.1" stroke="#8c8c8c" stroke-width="1" fill="none"/>
<path d="M112.5,498.9 L112.5,512.9" stroke="#1e1e1e" stroke-width="1" fill="none"/>
<path d="M121.5,329 L125.5,328 129.5,327.1 133.5,326.2 137.5,325.3 141.5,324.8 145.5,324.9 149.5,324.8 153.5,324.7 157.5,324.5 161.5,324.2 165.5,323.9 169.5,323.7 173.5,323.5 177.5,323.4 181.5,323.4 185.5,323.5 189.5,323.6 193.5,323.7 197.5,323.9 201.5,324 205.5,324.2 209.5,324.2 213.5,324.2 217.5,324.1 221.5,324 225.5,323.9 229.5,323.9 233.5,324 237.5,324.2 241.5,324.4 245.5,324.8 249.5,325.1 252,325.2" stroke="#222" stroke-width="1" fill="none"/>
<path d="M121.5,345.7 L125.5,345 129.5,344.4 133.5,343.7 137.5,343 141.5,342.5 145.5,342.4 149.5,342.2 153.5,341.9 157.5,341.6 161.5,341.4 165.5,341.1 169.5,341 173.5,341 177.5,341 181.5,341.2 185.5,341.3 189.5,341.4 193.5,341.5 197.5,341.5 201.5,341.5 205.5,341.6 209.5,341.6 213.5,341.6 217.5,341.6 221.5,341.7 225.5,341.8 229.5,342 233.5,342.3 237.5,342.7 241.5,343.1 245.5,343.5 249.5,343.9 252,344" stroke="#222" stroke-width="1" fill="none"/>
<path d="M121.5,360.8 L125.5,360.2 129.5,359.5 133.5,358.8 137.5,358 141.5,357.5 145.5,357.3 149.5,357 153.5,356.7 157.5,356.5 161.5,356.2 165.5,356.1 169.5,356 173.5,356.1 177.5,356.2 181.5,356.3 185.5,356.5 189.5,356.6 193.5,356.6 197.5,356.5 201.5,356.5 205.5,356.5 209.5,356.5 213.5,356.5 217.5,356.5 221.5,356.6 225.5,356.8 229.5,357.1 233.5,357.4 237.5,357.9 241.5,358.3 245.5,358.7 249.5,359 252,359" stroke="#222" stroke-width="1" fill="none"/>
<path d="M121.5,377.3 L125.5,376.6 129.5,375.8 133.5,374.9 137.5,373.9 141.5,373.1 145.5,372.9 149.5,372.6 153.5,372.4 157.5,372.2 161.5,372.2 165.5,372.2 169.5,372.3 173.5,372.5 177.5,372.6 181.5,372.7 185.5,372.7 189.5,372.7 193.5,372.5 197.5,372.2 201.5,372.1 205.5,372 209.5,372.1 213.5,372.2 217.5,372.4 221.5,372.7 225.5,373.1 229.5,373.5 233.5,373.9 237.5,374.3 241.5,374.6 245.5,374.8 249.5,374.9 252,374.8" stroke="#222" stroke-width="1" fill="none"/>
<path d="M121.5,392.7 L125.5,392 129.5,391.4 133.5,390.7 137.5,390 141.5,389.5 145.5,389.4 149.5,389.2 153.5,388.9 157.5,388.6 161.5,388.4 165.5,388.1 169.5,388 173.5,388 177.5,388 181.5,388.2 185.5,388.3 189.5,388.4 193.5,388.5 197.5,388.5 201.5,388.5 205.5,388.6 209.5,388.6 213.5,388.6 217.5,388.6 221.5,388.7 225.5,388.8 229.5,389 233.5,389.3 237.5,389.7 241.5,390.1 245.5,390.5 249.5,390.9 252,391" stroke="#222" stroke-width="1" fill="none"/>
<path d="M121.5,409.2 L125.5,408.5 129.5,407.8 133.5,406.9 137.5,405.9 141.5,405.2 145.5,404.9 149.5,404.6 153.5,404.4 157.5,404.2 161.5,404.1 165.5,404.2 169.5,404.3 173.5,404.4 177.5,404.6 181.5,404.7 185.5,404.7 189.5,404.7 193.5,404.5 197.5,404.3 201.5,404.1 205.5,404.1 209.5,404.1 213.5,404.2 217.5,404.4 221.5,404.7 225.5,405 229.5,405.4 233.5,405.8 237.5,406.2 241.5,406.5 245.5,406.8 249.5,406.9 252,406.8" stroke="#222" stroke-width="1" fill="none"/>
<path d="M121.5,427.4 L125.5,426.6 129.5,425.7 133.5,424.7 137.5,423.7 141.5,422.9 145.5,422.6 149.5,422.4 153.5,422.3 157.5,422.2 161.5,422.3 165.5,422.4 169.5,422.6 173.5,422.7 177.5,422.8 181.5,422.8 185.5,422.7 189.5,422.5 193.5,422.3 197.5,422 201.5,421.8 205.5,421.8 209.5,422 213.5,422.2 217.5,422.5 221.5,422.9 225.5,423.3 229.5,423.7 233.5,424.1 237.5,424.4 241.5,424.6 245.5,424.6 249.5,424.7 252,424.5" stroke="#222" stroke-width="1" fill="none"/>
<path d="M121.5,442.7 L125.5,441.7 129.5,440.8 133.5,440 137.5,439.2 141.5,438.9 145.5,439 149.5,439.2 153.5,439.2 157.5,439.2 161.5,439.1 165.5,438.9 169.5,438.6 173.5,438.3 177.5,438.1 181.5,437.9 185.5,437.7 189.5,437.7 193.5,437.8 197.5,437.9 201.5,438.2 205.5,438.6 209.5,438.9 213.5,439.2 217.5,439.3 221.5,439.4 225.5,439.4 229.5,439.4 233.5,439.4 237.5,439.4 241.5,439.6 245.5,439.8 249.5,440.1 252,440.3" stroke="#222" stroke-width="1" fill="none"/>
<path d="M121.5,458.3 L125.5,457.6 129.5,456.8 133.5,455.9 137.5,454.9 141.5,454.1 145.5,453.9 149.5,453.6 153.5,453.4 157.5,453.2 161.5,453.2 165.5,453.2 169.5,453.3 173.5,453.5 177.5,453.6 181.5,453.7 185.5,453.7 189.5,453.7 193.5,453.5 197.5,453.2 201.5,453.1 205.5,453 209.5,453.1 213.5,453.2 217.5,453.4 221.5,453.7 225.5,454.1 229.5,454.5 233.5,454.9 237.5,455.3 241.5,455.6 245.5,455.8 249.5,455.9 252,455.8" stroke="#222" stroke-width="1" fill="none"/>
<path d="M121.5,471.5 L125.5,470.8 129.5,470.1 133.5,469.4 137.5,468.8 141.5,468.4 145.5,468.4 149.5,468.3 153.5,468.2 157.5,467.9 161.5,467.6 165.5,467.3 169.5,467.1 173.5,467 177.5,466.9 181.5,466.9 185.5,467 189.5,467.2 193.5,467.3 197.5,467.4 201.5,467.6 205.5,467.8 209.5,467.9 213.5,467.9 217.5,467.9 221.5,467.9 225.5,467.9 229.5,468 233.5,468.2 237.5,468.5 241.5,468.8 245.5,469.2 249.5,469.7 252,469.8" stroke="#222" stroke-width="1" fill="none"/>
<path d="M121.5,488.2 L125.5,487.5 129.5,486.7 133.5,485.9 137.5,485 141.5,484.3 145.5,484 149.5,483.7 153.5,483.4 157.5,483.2 161.5,483.1 165.5,483.1 169.5,483.2 173.5,483.3 177.5,483.5 181.5,483.6 185.5,483.7 189.5,483.7 193.5,483.6 197.5,483.4 201.5,483.2 205.5,483.2 209.5,483.2 213.5,483.2 217.5,483.4 221.5,483.6 225.5,484 229.5,484.3 233.5,484.8 237.5,485.2 241.5,485.5 245.5,485.8 249.5,485.9 252,485.9" stroke="#222" stroke-width="1" fill="none"/>
<path d="M121.5,501.5 L125.5,500.6 129.5,499.6 133.5,498.5 137.5,497.4 141.5,496.6 145.5,496.4 149.5,496.3 153.5,496.3 157.5,496.4 161.5,496.5 165.5,496.7 169.5,496.8 173.5,496.9 177.5,496.9 181.5,496.8 185.5,496.6 189.5,496.3 193.5,496 197.5,495.7 201.5,495.6 205.5,495.8 209.5,496 213.5,496.4 217.5,496.7 221.5,497.2 225.5,497.6 229.5,497.9 233.5,498.2 237.5,498.3 241.5,498.4 245.5,498.4 249.5,498.4 252,498.3" stroke="#222" stroke-width="1" fill="none"/>
<path d="M121.5,514.7 L125.5,513.7 129.5,512.8 133.5,512 137.5,511.2 141.5,510.9 145.5,511 149.5,511.2 153.5,511.2 157.5,511.2 161.5,511.1 165.5,510.9 169.5,510.6 173.5,510.3 177.5,510.1 181.5,509.9 185.5,509.7 189.5,509.7 193.5,509.8 197.5,509.9 201.5,510.2 205.5,510.6 209.5,510.9 213.5,511.2 217.5,511.3 221.5,511.4 225.5,511.4 229.5,511.4 233.5,511.4 237.5,511.4 241.5,511.6 245.5,511.8 249.5,512.1 252,512.3" stroke="#222" stroke-width="1" fill="none"/>
<path d="M121.5,531.3 L125.5,530.2 129.5,529.2 133.5,528.1 137.5,527.1 141.5,526.5 145.5,526.5 149.5,526.5 153.5,526.7 157.5,526.8 161.5,526.9 165.5,527 169.5,527 173.5,526.9 177.5,526.7 181.5,526.4 185.5,526.2 189.5,525.9 193.5,525.7 197.5,525.5 201.5,525.6 205.5,525.9 209.5,526.3 213.5,526.7 217.5,527.2 221.5,527.5 225.5,527.8 229.5,527.9 233.5,528 237.5,528 241.5,528 245.5,528 249.5,528.1 252,528" stroke="#222" stroke-width="1" fill="none"/>
<path d="M121.5,545.5 L125.5,544.6 129.5,543.8 133.5,543.1 137.5,542.5 141.5,542.1 145.5,542.2 149.5,542.3 153.5,542.3 157.5,542.1 161.5,541.9 165.5,541.7 169.5,541.4 173.5,541.1 177.5,540.9 181.5,540.8 185.5,540.8 189.5,540.9 193.5,541 197.5,541.2 201.5,541.4 205.5,541.7 209.5,542 213.5,542.1 217.5,542.2 221.5,542.2 225.5,542.2 229.5,542.2 233.5,542.2 237.5,542.4 241.5,542.6 245.5,542.9 249.5,543.3 252,543.5" stroke="#222" stroke-width="1" fill="none"/>
<path d="M121.5,559.5 L125.5,558.7 129.5,557.9 133.5,557.2 137.5,556.6 141.5,556.2 145.5,556.3 149.5,556.3 153.5,556.3 157.5,556.1 161.5,555.9 165.5,555.6 169.5,555.3 173.5,555.1 177.5,554.9 181.5,554.8 185.5,554.8 189.5,554.9 193.5,555.1 197.5,555.2 201.5,555.5 205.5,555.8 209.5,556 213.5,556.1 217.5,556.1 221.5,556.1 225.5,556.1 229.5,556.1 233.5,556.2 237.5,556.4 241.5,556.7 245.5,557 249.5,557.4 252,557.6" stroke="#222" stroke-width="1" fill="none"/>
<path d="M121.5,576.4 L125.5,575.6 129.5,574.7 133.5,573.8 137.5,572.7 141.5,571.9 145.5,571.7 149.5,571.4 153.5,571.3 157.5,571.2 161.5,571.3 165.5,571.4 169.5,571.5 173.5,571.7 177.5,571.8 181.5,571.8 185.5,571.7 189.5,571.6 193.5,571.3 197.5,571 201.5,570.8 205.5,570.9 209.5,571 213.5,571.2 217.5,571.5 221.5,571.9 225.5,572.3 229.5,572.7 233.5,573.1 237.5,573.4 241.5,573.6 245.5,573.7 249.5,573.7 252,573.6" stroke="#222" stroke-width="1" fill="none"/>
<path d="M121.5,590.4 L125.5,589.3 129.5,588.2 133.5,587.2 137.5,586.1 141.5,585.5 145.5,585.4 149.5,585.5 153.5,585.6 157.5,585.7 161.5,585.9 165.5,586 169.5,586 173.5,585.9 177.5,585.8 181.5,585.5 185.5,585.3 189.5,585 193.5,584.7 197.5,584.6 201.5,584.6 205.5,584.9 209.5,585.2 213.5,585.7 217.5,586.1 221.5,586.4 225.5,586.8 229.5,587 233.5,587.1 237.5,587.1 241.5,587.1 245.5,587.1 249.5,587.1 252,587.1" stroke="#222" stroke-width="1" fill="none"/>
<path d="M121.5,605.2 L125.5,604.1 129.5,603.1 133.5,602 137.5,601.1 141.5,600.5 145.5,600.5 149.5,600.6 153.5,600.8 157.5,600.9 161.5,601 165.5,601.1 169.5,601 173.5,600.9 177.5,600.6 181.5,600.3 185.5,600.1 189.5,599.8 193.5,599.6 197.5,599.5 201.5,599.7 205.5,600 209.5,600.4 213.5,600.8 217.5,601.2 221.5,601.5 225.5,601.8 229.5,601.9 233.5,601.9 237.5,601.9 241.5,601.9 245.5,601.9 249.5,602 252,602" stroke="#222" stroke-width="1" fill="none"/>
<path d="M121.5,620.2 L125.5,619.5 129.5,618.8 133.5,617.9 137.5,616.9 141.5,616.2 145.5,615.9 149.5,615.7 153.5,615.4 157.5,615.2 161.5,615.1 165.5,615.2 169.5,615.2 173.5,615.4 177.5,615.5 181.5,615.7 185.5,615.7 189.5,615.7 193.5,615.5 197.5,615.3 201.5,615.1 205.5,615.1 209.5,615.1 213.5,615.2 217.5,615.4 221.5,615.6 225.5,616 229.5,616.4 233.5,616.8 237.5,617.2 241.5,617.5 245.5,617.8 249.5,617.9 252,617.9" stroke="#222" stroke-width="1" fill="none"/>
<path d="M123.5,329.1 L123.5,345.7" stroke="#8c8c8c" stroke-width="1" fill="none"/>
<path d="M150.5,324.3 L150.5,341.8" stroke="#8c8c8c" stroke-width="1" fill="none"/>
<path d="M176.5,323.9 L176.5,341.4" stroke="#8c8c8c" stroke-width="1" fill="none"/>
<path d="M198.5,323.5 L198.5,341" stroke="#1e1e1e" stroke-width="1" fill="none"/>
<path d="M221.5,324.1 L221.5,342" stroke="#8c8c8c" stroke-width="1" fill="none"/>
<path d="M249.5,325 L249.5,343.4" stroke="#1e1e1e" stroke-width="1" fill="none"/>
<path d="M137.5,342.7 L137.5,357.7" stroke="#1e1e1e" stroke-width="1" fill="none"/>
<path d="M163.5,341.6 L163.5,356.6" stroke="#8c8c8c" stroke-width="1" fill="none"/>
<path d="M190.5,341.2 L190.5,356.2" stroke="#1e1e1e" stroke-width="1" fill="none"/>
<path d="M218.5,341.9 L218.5,356.9" stroke="#1e1e1e" stroke-width="1" fill="none"/>
<path d="M242.5,343.1 L242.5,358.1" stroke="#8c8c8c" stroke-width="1" fill="none"/>
<path d="M142.5,357 L142.5,373" stroke="#8c8c8c" stroke-width="1" fill="none"/>
<path d="M167.5,356.5 L167.5,372.5" stroke="#8c8c8c" stroke-width="1" fill="none"/>
<path d="M193.5,356.1 L193.5,372.1" stroke="#8c8c8c" stroke-width="1" fill="none"/>
<path d="M217.5,356.9 L217.5,372.9" stroke="#1e1e1e" stroke-width="1" fill="none"/>
<path d="M242.5,358.1 L242.5,374.1" stroke="#8c8c8c" stroke-width="1" fill="none"/>
<path d="M135.5,374 L135.5,390" stroke="#8c8c8c" stroke-width="1" fill="none"/>
<path d="M163.5,372.6 L163.5,388.6" stroke="#8c8c8c" stroke-width="1" fill="none"/>
<path d="M190.5,372.2 L190.5,388.2" stroke="#1e1e1e" stroke-width="1" fill="none"/>
<path d="M212.5,372.6 L212.5,388.6" stroke="#1e1e1e" stroke-width="1" fill="none"/>
<path d="M236.5,373.8 L236.5,389.8" stroke="#1e1e1e" stroke-width="1" fill="none"/>
<path d="M142.5,389 L142.5,405" stroke="#1e1e1e" stroke-width="1" fill="none"/>
<path d="M165.5,388.6 L165.5,404.6" stroke="#1e1e1e" stroke-width="1" fill="none"/>
<path d="M193.5,388.1 L193.5,404.1" stroke="#1e1e1e" stroke-width="1" fill="none"/>
<path d="M217.5,388.8 L217.5,404.8" stroke="#8c8c8c" stroke-width="1" fill="none"/>
<path d="M242.5,390.1 L242.5,406.1" stroke="#1e1e1e" stroke-width="1" fill="none"/>
<path d="M135.5,406 L135.5,424" stroke="#1e1e1e" stroke-width="1" fill="none"/>
<path d="M163.5,404.6 L163.5,422.6" stroke="#8c8c8c" stroke-width="1" fill="none"/>
<path d="M190.5,404.2 L190.5,422.2" stroke="#8c8c8c" stroke-width="1" fill="none"/>
<path d="M214.5,404.7 L214.5,422.7" stroke="#1e1e1e" stroke-width="1" fill="none"/>
<path d="M242.5,406.1 L242.5,424.1" stroke="#8c8c8c" stroke-width="1" fill="none"/>
<path d="M146.5,422.9 L146.5,438.9" stroke="#8c8c8c" stroke-width="1" fill="none"/>
<path d="M169.5,422.5 L169.5,438.5" stroke="#8c8c8c" stroke-width="1" fill="none"/>
<path d="M192.5,422.1 L192.5,438.1" stroke="#1e1e1e" stroke-width="1" fill="none"/>
<path d="M220.5,423 L220.5,439" stroke="#8c8c8c" stroke-width="1" fill="none"/>
<path d="M242.5,424.1 L242.5,440.1" stroke="#1e1e1e" stroke-width="1" fill="none"/>
<path d="M133.5,440.4 L133.5,455.4" stroke="#8c8c8c" stroke-width="1" fill="none"/>
<path d="M159.5,438.7 L159.5,453.7" stroke="#1e1e1e" stroke-width="1" fill="none"/>
<path d="M184.5,438.3 L184.5,453.3" stroke="#1e1e1e" stroke-width="1" fill="none"/>
<path d="M206.5,438.3 L206.5,453.3" stroke="#1e1e1e" stroke-width="1" fill="none"/>
<path d="M228.5,439.4 L228.5,454.4" stroke="#1e1e1e" stroke-width="1" fill="none"/>
<path d="M146.5,453.9 L146.5,467.9" stroke="#1e1e1e" stroke-width="1" fill="none"/>
<path d="M171.5,453.5 L171.5,467.5" stroke="#1e1e1e" stroke-width="1" fill="none"/>
<path d="M194.5,453.1 L194.5,467.1" stroke="#1e1e1e" stroke-width="1" fill="none"/>
<path d="M217.5,453.8 L217.5,467.8" stroke="#1e1e1e" stroke-width="1" fill="none"/>
<path d="M241.5,455 L241.5,469" stroke="#1e1e1e" stroke-width="1" fill="none"/>
<path d="M136.5,468.8 L136.5,484.8" stroke="#1e1e1e" stroke-width="1" fill="none"/>
<path d="M161.5,467.7 L161.5,483.7" stroke="#1e1e1e" stroke-width="1" fill="none"/>
<path d="M187.5,467.2 L187.5,483.2" stroke="#1e1e1e" stroke-width="1" fill="none"/>
<path d="M211.5,467.5 L211.5,483.5" stroke="#1e1e1e" stroke-width="1" fill="none"/>
<path d="M234.5,468.7 L234.5,484.7" stroke="#8c8c8c" stroke-width="1" fill="none"/>
<path d="M124.5,487.4 L124.5,500.4" stroke="#1e1e1e" stroke-width="1" fill="none"/>
<path d="M149.5,483.8 L149.5,496.8" stroke="#8c8c8c" stroke-width="1" fill="none"/>
<path d="M172.5,483.5 L172.5,496.5" stroke="#8c8c8c" stroke-width="1" fill="none"/>
<path d="M198.5,483 L198.5,496" stroke="#1e1e1e" stroke-width="1" fill="none"/>
<path d="M223.5,484.1 L223.5,497.1" stroke="#1e1e1e" stroke-width="1" fill="none"/>
<path d="M249.5,485.5 L249.5,498.5" stroke="#1e1e1e" stroke-width="1" fill="none"/>
<path d="M136.5,498 L136.5,512" stroke="#8c8c8c" stroke-width="1" fill="none"/>
<path d="M162.5,496.6 L162.5,510.6" stroke="#8c8c8c" stroke-width="1" fill="none"/>
<path d="M187.5,496.2 L187.5,510.2" stroke="#1e1e1e" stroke-width="1" fill="none"/>
<path d="M213.5,496.6 L213.5,510.6" stroke="#8c8c8c" stroke-width="1" fill="none"/>
<path d="M241.5,498 L241.5,512" stroke="#1e1e1e" stroke-width="1" fill="none"/>
<path d="M144.5,510.9 L144.5,526.9" stroke="#8c8c8c" stroke-width="1" fill="none"/>
<path d="M170.5,510.5 L170.5,526.5" stroke="#1e1e1e" stroke-width="1" fill="none"/>
<path d="M197.5,510.1 L197.5,526.1" stroke="#1e1e1e" stroke-width="1" fill="none"/>
<path d="M224.5,511.2 L224.5,527.2" stroke="#8c8c8c" stroke-width="1" fill="none"/>
<path d="M249.5,512.5 L249.5,528.5" stroke="#1e1e1e" stroke-width="1" fill="none"/>
<path d="M133.5,528.5 L133.5,543.5" stroke="#1e1e1e" stroke-width="1" fill="none"/>
<path d="M160.5,526.7 L160.5,541.7" stroke="#1e1e1e" stroke-width="1" fill="none"/>
<path d="M188.5,526.2 L188.5,541.2" stroke="#1e1e1e" stroke-width="1" fill="none"/>
<path d="M213.5,526.7 L213.5,541.7" stroke="#1e1e1e" stroke-width="1" fill="none"/>
<path d="M236.5,527.8 L236.5,542.8" stroke="#1e1e1e" stroke-width="1" fill="none"/>
<path d="M148.5,541.9 L148.5,555.9" stroke="#1e1e1e" stroke-width="1" fill="none"/>
<path d="M174.5,541.4 L174.5,555.4" stroke="#8c8c8c" stroke-width="1" fill="none"/>
<path d="M201.5,541 L201.5,555" stroke="#1e1e1e" stroke-width="1" fill="none"/>
<path d="M227.5,542.3 L227.5,556.3" stroke="#1e1e1e" stroke-width="1" fill="none"/>
<path d="M136.5,556.9 L136.5,572.9" stroke="#1e1e1e" stroke-width="1" fill="none"/>
<path d="M162.5,555.6 L162.5,571.6" stroke="#8c8c8c" stroke-width="1" fill="none"/>
<path d="M185.5,555.3 L185.5,571.3" stroke="#1e1e1e" stroke-width="1" fill="none"/>
<path d="M211.5,555.5 L211.5,571.5" stroke="#8c8c8c" stroke-width="1" fill="none"/>
<path d="M237.5,556.8 L237.5,572.8" stroke="#1e1e1e" stroke-width="1" fill="none"/>
<path d="M145.5,571.9 L145.5,585.9" stroke="#8c8c8c" stroke-width="1" fill="none"/>
<path d="M167.5,571.5 L167.5,585.5" stroke="#8c8c8c" stroke-width="1" fill="none"/>
<path d="M191.5,571.2 L191.5,585.2" stroke="#8c8c8c" stroke-width="1" fill="none"/>
<path d="M213.5,571.6 L213.5,585.6" stroke="#1e1e1e" stroke-width="1" fill="none"/>
<path d="M237.5,572.9 L237.5,586.9" stroke="#1e1e1e" stroke-width="1" fill="none"/>
<path d="M132.5,587.6 L132.5,602.6" stroke="#1e1e1e" stroke-width="1" fill="none"/>
<path d="M154.5,585.8 L154.5,600.8" stroke="#1e1e1e" stroke-width="1" fill="none"/>
<path d="M178.5,585.4 L178.5,600.4" stroke="#1e1e1e" stroke-width="1" fill="none"/>
<path d="M201.5,585 L201.5,600" stroke="#1e1e1e" stroke-width="1" fill="none"/>
<path d="M225.5,586.3 L225.5,601.3" stroke="#8c8c8c" stroke-width="1" fill="none"/>
<path d="M251.5,587.5 L251.5,602.5" stroke="#8c8c8c" stroke-width="1" fill="none"/>
<path d="M146.5,600.9 L146.5,615.9" stroke="#1e1e1e" stroke-width="1" fill="none"/>
<path d="M173.5,600.5 L173.5,615.5" stroke="#1e1e1e" stroke-width="1" fill="none"/>
<path d="M200.5,600 L200.5,615" stroke="#1e1e1e" stroke-width="1" fill="none"/>
<path d="M224.5,601.2 L224.5,616.2" stroke="#8c8c8c" stroke-width="1" fill="none"/>
<path d="M250.5,602.5 L250.5,617.5" stroke="#1e1e1e" stroke-width="1" fill="none"/>
</g>
<path d="M88.1,338 L101,338 L101,326.5 L110,326 L121.5,329.5 L128,327 L140,324.5 L152,323 L164,322.8 L176,323.2 L186.25,324.5" stroke="#333" stroke-width="1" fill="none"/>
<path d="M121.5,329 L121.5,521" stroke="#999" stroke-width="1.3" fill="none"/>
<path d="M344.5,160 L344.5,300" stroke="#999" stroke-width="1.2" fill="none"/>
<g stroke="#999" stroke-width="1" fill="none"><path d="M228,340 Q240,345 243,356"/><path d="M233,334 Q246,338 250,346"/><path d="M240,330 Q248,333 252,340"/><path d="M236,338 L244,331"/><path d="M242,343 L249,336"/></g>
<path d="M266.7,346 L268,345.5 280,344.8 288.8,345.3 307.5,344.4 322.5,344.4 331.9,348.2 341.3,353.8 348.8,355.7 354.4,353.8 360,346.3 365.7,335 371.5,332 369,345 365.5,370 361.6,402.8 357.2,424.7 352.5,440 347.5,454.8 344.6,469.6 343.6,481.5 344.1,489.4 344.6,497.3 324.2,497.3 324,470 322.8,468.7 321,435.6 321,413.8 322.2,391.9 320,387.5 315.6,381 309,376.1 306,375.6 303.9,376.4 298.8,379.3 295.2,385.1 293.8,392.3 293,403.9 291.6,415.4 289.4,429.8 287.3,444.3 285.1,455.8 282.9,464.5 281.5,470 278.5,477.6 275.4,483.7 270.1,490.5 264,498.9 257.2,507.3 251.1,514.1 247.3,518.7 242.5,527.5 238,540 233.1,551.2 227.5,563.9 221.9,573.8 216.2,583.6 210.6,593.4 206.4,600.5 202.2,602.8 172.7,603.2 167,602.6 171.2,599 178.3,587.8 185.3,576.6 192.3,563.9 198,551.2 204.3,538.7 212.5,522.5 220,507.5 227.5,495 231.4,489.5 237.5,481.2 244,471 248.7,463.8 252.5,455 257,449 262,440 265.6,425.7 269,409.7 269,387 269,364Z" fill="#999"/>
<path d="M326.6,387.5 C326.5,391.2 327.4,407.9 327.7,413.8 C328,419.7 329.5,441.1 329.9,446.6 C330.3,452.1 331.7,464.8 332,468.5 C332.3,472.2 332.9,482.2 333.2,483.5 C333.5,484.8 334.6,481.1 335,481 C335.4,480.9 336.6,483.5 337,483 C337.4,482.5 338.6,476.9 339,476 C339.4,475.1 340.7,473.8 341,474 C341.3,474.2 341.9,478.4 342,478 C342.1,477.6 341.8,472.5 342,470 C342.2,467.5 343.6,457.7 344.1,453.2 C344.6,448.7 347,430.8 347.4,424.7 C347.8,418.6 348.5,396.7 348.5,391.9 C348.5,387.1 347.8,378.5 347.4,376.6 C347,374.7 345.6,373.1 345,372.5 C344.4,371.9 342.9,371.2 341.9,371.1 C340.9,371 336.4,370.9 335.3,371.1 C334.2,371.3 331.6,372.9 331,373.5 C330.4,374.1 329.2,375.2 328.8,376.6 C328.4,378 326.7,383.8 326.6,387.5Z" fill="#fff" stroke="#000" stroke-width="1.4"/>
<path d="M242.5,270 C243.6,269.4 247.7,268.3 250,268 C252.3,267.7 257.3,267.4 260,267.5 C262.7,267.6 267.3,268.4 270,268.8 C272.7,269.1 277.5,269.5 280,270 C282.5,270.5 287.1,271.8 288.8,272.5 C290.4,273.2 291.4,274 292,275 C292.6,276 292.9,278.9 293,280 C293.1,281.1 293.7,283 293,283.5 C292.3,284 289.2,284.1 287.5,283.8 C285.8,283.4 282.3,281.9 280,281.2 C277.7,280.6 272.7,279.3 270,278.8 C267.3,278.2 262.7,277.4 260,277 C257.3,276.6 252.2,276 250,275.8 C247.8,275.5 244.8,275.4 243.8,275 C242.7,274.6 242.2,273.2 242,272.5 C241.8,271.8 241.4,270.6 242.5,270Z" fill="#999"/>
<path d="M242.5,270 C243.5,269.7 247.7,268.3 250,268 C252.3,267.7 257.3,267.4 260,267.5 C262.7,267.6 267.3,268.4 270,268.8 C272.7,269.1 277.5,269.5 280,270 C282.5,270.5 287.1,271.8 288.8,272.5 C290.4,273.2 291.4,274 292,275 C292.6,276 292.9,278.9 293,280 C293.1,281.1 293,283 293,283.5" fill="none" stroke="#000" stroke-width="1.8"/>
<path d="M334.7,268.8 C334.6,267.5 335.8,265.5 336.4,264.8 C337,264.1 338.6,263.5 339.4,263.5 C340.2,263.5 341.7,264.2 342.5,265 C343.3,265.8 344.8,267.8 345.3,269.5 C345.8,271.2 346.2,275.6 346.2,278 C346.2,280.4 345.8,285.2 345.6,287.5 C345.4,289.8 344.9,293.2 344.5,295 C344.1,296.8 343.1,299.3 342.5,301 C341.9,302.7 340.7,308.3 340.3,308 C339.9,307.7 339.6,301.2 339.5,299 C339.4,296.8 339.6,293.6 339.5,291.3 C339.4,289 339,284.3 338.6,282 C338.2,279.7 337.3,276.2 336.8,274.4 C336.3,272.6 334.8,270.1 334.7,268.8Z" fill="#999" stroke="#000" stroke-width="1.5"/>
<path d="M322.5,162.5 C323.2,162 326.5,161.1 328.4,161.5 C330.3,161.9 334.6,164 336.5,165.2 C338.4,166.4 341.6,169.1 343,170.8 C344.4,172.5 346.3,176.1 347,178 C347.7,179.9 348.4,183.4 348.6,185.3 C348.8,187.2 348.6,191.7 348.3,192.5 C348,193.3 346.6,192.1 346,191 C345.4,189.9 344.3,186.3 343.6,184.5 C342.9,182.7 341.7,179.2 340.6,177.5 C339.5,175.8 337,173.2 335.5,172 C334,170.8 331.1,169.2 329.5,168.3 C327.9,167.4 324.4,166.4 323.5,165.6 C322.6,164.8 321.8,163 322.5,162.5Z" fill="#999" stroke="#000" stroke-width="1.4"/>
<path d="M131,604 C130,601.3 131.1,589.9 131.2,585 C131.3,580.1 131.2,569.9 131.7,566.9 C132.2,563.9 134,562.5 134.8,562.2 C135.6,561.9 137.4,563.2 138,564.5 C138.6,565.8 139.2,566.7 139.5,571.6 C139.8,576.5 140.4,596.8 140.3,601.2 C140.2,605.7 140,604.8 138.8,605.2 C137.5,605.6 132,606.7 131,604Z" fill="#999"/>
<path d="M131,604 C131,601.5 131.1,589.9 131.2,585 C131.3,580.1 131.2,569.9 131.7,566.9 C132.2,563.9 134,562.5 134.8,562.2 C135.6,561.9 137.4,563.2 138,564.5 C138.6,565.8 139.3,570.7 139.5,571.6" fill="none" stroke="#000" stroke-width="1.5"/>
<path d="M150,39.3 C151.2,39.4 155,39.6 157,40 C159,40.4 160.6,40.8 162,41.5 C163.4,42.2 164.5,43 165.5,44 C166.5,45 167.3,46.3 167.8,47.5 C168.3,48.7 168.6,49.2 168.7,51 C168.8,52.8 168.4,54 168.1,58.2 C167.8,62.5 167.3,70.4 166.9,76.5 C166.5,82.6 165.9,88.6 165.6,94.7 C165.3,100.8 164.9,106.9 165,113 C165.1,119.1 165.8,126.7 166,131.2 C166.2,135.7 166.2,137.1 166.4,140 C166.6,142.9 166.7,146 167.4,148.5 C168.1,151 168.7,153.1 170.6,154.9 C172.5,156.7 176.8,157.7 179.1,159.1 C181.4,160.5 183.2,162 184.5,163.4 C185.8,164.8 186.3,165.6 186.6,167.7 C186.8,169.8 186,173.4 186,176.2 C186,179 186.2,181.5 186.6,184.7 C187,187.9 187.6,191.8 188.7,195.3 C189.8,198.9 191.8,203.2 193,206 C194.2,208.8 195.1,209.8 196.2,212.3 C197.3,214.8 198.5,218.1 199.4,220.9 C200.3,223.8 200.6,226.9 201.5,229.4 C202.4,231.9 203.5,233.6 204.7,235.7 C205.9,237.8 207.7,239.6 208.9,242.1 C210.1,244.6 211,247.4 212.1,250.6 C213.2,253.8 214.1,258.4 215.3,261.3 C216.6,264.2 217.8,266.1 219.6,267.7 C221.4,269.3 224.1,270.3 226,270.9 C227.9,271.5 230.2,271.4 231,271.5" stroke="#000" fill="none" stroke-width="2"/>
<path d="M164,43.8 L180,44.2 200,44.5 230,45 260,47 275,47.8 277.6,51.1 280.8,55.5 285.1,59.5 287.5,61.5 288.9,60 290.8,54.2 292.6,49.2 299.5,48.6 312,48.4 319.5,48 321.4,46.8 323.2,40.5 324.5,33 325.1,26.8 327,22.4 330.1,20.5 333.2,20.8 336.4,22.4" stroke="#000" fill="none" stroke-width="2" stroke-linejoin="round"/>
<path d="M320.7,47.5 C320.8,49.6 320.9,54.6 321,60 C321.1,65.4 321.1,73.3 321.2,80 C321.3,86.7 321.5,95.3 321.8,100 C322.1,104.7 322.6,105.4 323.2,108.4 C323.8,111.5 324.5,115.5 325.3,118.3 C326.1,121.1 326.9,123.2 328.1,125.3 C329.3,127.4 330.7,129.4 332.3,130.9 C333.9,132.4 335.9,133.5 338,134.5 C340.1,135.5 342.4,136.3 345,136.8 C347.6,137.3 351.1,137.3 353.4,137.7 C355.7,138.1 356.9,138.4 359,139.4 C361.1,140.4 363.9,142 366,143.6 C368.1,145.2 370,147.3 371.7,149.2 C373.4,151.1 374.8,153.3 376,154.9 C377.2,156.5 378.3,158.3 378.8,159" stroke="#000" fill="none" stroke-width="2"/>
<path d="M378.8,159 L381.6,158" stroke="#000" fill="none" stroke-width="1.6"/>
<path d="M378.8,159 C378.3,159.6 376.7,161 376,162.5 C375.3,164 374.8,165.9 374.5,168 C374.2,170.1 374.2,169.7 374.2,175 C374.2,180.3 374.4,190.8 374.5,200 C374.6,209.2 374.9,220 375,230 C375.1,240 375.1,248.3 375,260 C374.9,271.7 374.6,289.2 374.2,300 C373.8,310.8 373.2,319.7 372.8,325 C372.4,330.3 372.1,329.2 371.5,332 C370.9,334.8 369.8,340.3 369.5,342" stroke="#000" fill="none" stroke-width="2"/>
<path d="M371.5,332 C371.2,333.7 370.2,338.2 369.5,342 C368.8,345.8 368.2,350.3 367.5,355 C366.8,359.7 366.5,362 365.5,370 C364.5,378 363,393.7 361.6,402.8 C360.2,411.9 358.7,418.5 357.2,424.7 C355.7,430.9 354.1,435 352.5,440 C350.9,445 348.8,449.9 347.5,454.8 C346.2,459.7 345.2,465.2 344.6,469.6 C344,474.1 343.7,478.2 343.6,481.5 C343.5,484.8 343.9,486.8 344.1,489.4 C344.3,492 344.5,496 344.6,497.3" stroke="#000" fill="none" stroke-width="1.6"/>
<path d="M253.4,341 C253.9,340.9 255,340.2 256.6,340.6 C258.2,341 260.9,342.5 262.8,343.3 C264.7,344.1 265.1,345.2 268,345.5 C270.9,345.8 276.5,344.8 280,344.8 C283.5,344.8 284.2,345.4 288.8,345.3 C293.3,345.2 301.9,344.5 307.5,344.4 C313.1,344.2 318.4,343.8 322.5,344.4 C326.6,345 328.8,346.6 331.9,348.2 C335,349.8 338.5,352.6 341.3,353.8 C344.1,355.1 346.6,355.7 348.8,355.7 C351,355.7 352.5,355.4 354.4,353.8 C356.3,352.2 358.1,349.4 360,346.3 C361.9,343.2 363.8,337.4 365.7,335 C367.6,332.6 370.5,332.5 371.5,332" stroke="#000" fill="none" stroke-width="2"/>
<path d="M344.5,272 C344.6,274.2 345.1,280.5 345,285 C344.9,289.5 344.8,295.3 344,298.8 C343.2,302.3 341.5,303.5 340.3,306 C339.1,308.5 338.3,311.6 336.6,313.8 C334.9,316 333,318 330,319.4 C327,320.8 323.8,321.5 318.8,322.2 C313.8,322.9 306.5,323.1 300,323.5 C293.5,323.9 284.4,324.2 280,324.5 C275.6,324.8 276.4,325.2 273.8,325.3 C271.1,325.4 267.5,325 264.4,325 C261.3,325 258.6,324.7 255,325.3 C251.3,325.9 246.4,327 242.5,328.4 C238.6,329.8 234.8,331.8 231.6,333.9 C228.3,336 224.4,339.8 223,341" stroke="#000" fill="none" stroke-width="2"/>
<path d="M186.25,324.5 L208.9,334 L223,341" stroke="#000" fill="none" stroke-width="1.5"/>
<g stroke="#000" fill="none" stroke-width="2"><path d="M134.8,314 L144.6,316.3"/><path d="M154.4,318.3 L162.9,320.2"/><path d="M171.3,321 L181,323"/></g>
<g fill="#fff" stroke="#000" stroke-width="1.3"><path d="M183,324 L187,321.5 L189.5,323.5 L185.5,326.5Z"/><path d="M205.5,333 L209.5,330.5 L212.5,333 L208,335.5Z"/></g>
<path d="M261.8,344.6 C260.6,344 256.2,340.9 254.3,340.9 C252.4,340.9 251.5,343.1 250.1,344.6 C248.7,346.1 247.1,348.1 245.8,349.9 C244.5,351.7 242.4,353.7 242.1,355.6 C241.8,357.6 243.2,359.4 243.7,361.6 C244.2,363.8 245,366.3 245.3,369 C245.7,371.7 245.7,374.4 245.8,377.6 C245.9,380.8 245.8,383.6 245.8,388.2 C245.8,392.8 245.9,398 245.8,405 C245.8,412 245.6,422.5 245.5,430 C245.4,437.5 245,445.5 245,450 C245,454.5 245.2,455.2 245.5,457 C245.8,458.8 246.3,460.4 247,460.6 C247.7,460.9 248.6,459.4 249.5,458.5 C250.4,457.6 252,455.6 252.5,455" stroke="#000" fill="none" stroke-width="2"/>
<path d="M252.5,455 C251.9,456.5 250.1,461.1 248.7,463.8 C247.3,466.5 245.9,468.1 244,471 C242.1,473.9 239.6,478.2 237.5,481.2 C235.4,484.3 233.1,487.2 231.4,489.5 C229.7,491.8 229.4,492 227.5,495 C225.6,498 222.5,502.9 220,507.5 C217.5,512.1 215.1,517.3 212.5,522.5 C209.9,527.7 206.7,533.9 204.3,538.7 C201.9,543.5 200,547 198,551.2 C196,555.5 194.4,559.7 192.3,563.9 C190.2,568.1 187.6,572.6 185.3,576.6 C183,580.6 180.6,584.1 178.3,587.8 C176,591.5 173.3,596.4 171.2,599 C169.2,601.6 168.2,602.2 166,603.2 C163.8,604.2 160.5,604.6 158,605 C155.5,605.4 155,605.6 151.2,605.6 C147.5,605.6 139.8,605.3 135.6,605.2 C131.4,605.1 127.8,610.2 126.3,605.2 C124.8,600.2 126.4,585.2 126.3,575 C126.2,564.8 126,552.7 125.7,543.8 C125.4,534.9 124.9,525.1 124.7,521.4" stroke="#000" fill="none" stroke-width="2"/>
<path d="M252.5,455 C253.2,454 255.4,451.5 257,449 C258.6,446.5 260.6,443.9 262,440 C263.4,436.1 264.4,430.8 265.6,425.7 C266.8,420.6 268.4,416.1 269,409.7 C269.6,403.2 269.5,394.6 269.5,387 C269.5,379.4 269.4,370.5 269,364 C268.6,357.5 267.3,350.7 267,348" stroke="#000" fill="none" stroke-width="2" stroke-dasharray="7,4"/>
<path d="M309,376.1 C310.1,376.9 313.8,379.1 315.6,381 C317.4,382.9 318.9,385.7 320,387.5 C321.1,389.3 321.8,391.2 322.2,391.9" stroke="#000" fill="none" stroke-width="2" stroke-dasharray="5,3"/>
<path d="M322.2,391.9 C322,395.5 321.2,406.5 321,413.8 C320.8,421.1 320.7,426.5 321,435.6 C321.3,444.8 322.5,463.2 322.8,468.7" stroke="#000" fill="none" stroke-width="1.5"/>
<path d="M324,471 L324.2,497" stroke="#000" fill="none" stroke-width="2" stroke-dasharray="6,4"/>
<path d="M341.2,486 L341.4,497" stroke="#000" fill="none" stroke-width="1.5" stroke-dasharray="4,3"/>
<g stroke="#555" stroke-width="0.9" fill="none"><path d="M332,349 Q333,360 334,372"/><path d="M355,354 Q352,365 350,378"/></g>
<path d="M88.1,337.5 C88.1,340.4 88.2,349 88.3,355 C88.4,361 88.3,366.5 88.7,373.4 C89.1,380.3 89.6,389.8 90.4,396.5 C91.2,403.2 92.8,408.1 93.6,413.8 C94.4,419.6 94.7,420.9 95,431 C95.3,441.1 95.2,462.4 95.5,474.5 C95.8,486.6 96.2,496.5 96.5,503.4 C96.8,510.2 97.2,513.6 97.4,515.6" stroke="#000" fill="none" stroke-width="2"/>
<path d="M97.4,515.3 C105,513.5 112,513.5 119,514.5" stroke="#333" stroke-width="1" fill="none"/>
<g fill="#444" stroke="#000" stroke-width="1.6"><ellipse cx="98.4" cy="516.4" rx="1.8" ry="1.2"/><ellipse cx="103.6" cy="518.9" rx="1.8" ry="1.2"/><ellipse cx="109.1" cy="518.75" rx="1.8" ry="1.2"/><ellipse cx="116.1" cy="518.4" rx="1.8" ry="1.2"/></g>
<ellipse cx="122.4" cy="516.8" rx="2.6" ry="6" fill="#fff" stroke="#000" stroke-width="1.7"/>
<g fill="#fff" stroke="#000" stroke-width="1.7" stroke-linejoin="round">
<path d="M195,159.5 L201.6,157.4 203.8,161.7 199.4,164Z"/>
<path d="M206,157 L209,153.6 212.5,157.4 209,160.6Z"/>
<path d="M214.7,159.5 L219,156.7 223.5,158.4 221,161.7Z"/>
<path d="M232,157 L237.7,155.8 240,158.4 235.5,160.6Z"/>
<path d="M241,160.6 L247.5,159 253,160.6 249.7,165 244,165Z"/>
<path d="M209,175 L219,167 231,160.6 242,166 245,170.5 236.6,180 225.6,182.5 212.5,178Z"/>
<path d="M247.5,165 L260.7,164 262.8,171.6 249.7,172.7Z"/>
<path d="M243,173.8 L254,171.6 267,172.7 268,181.4 251,183.6Z"/>
<path d="M278.4,156.4 L288.6,149.7 308.1,161.9 299.5,170.5 294.8,169.7Z"/>
<path d="M264.4,164.2 L269,162.7 283,163.4 286,164 299.5,177.5 306.6,186.1 302.7,187.7 293.3,188.4 283,191.6 282.3,185.3 270.6,184.5 269,179 270.6,174.4 279,168Z"/>
<path d="M300.3,175.9 L308.1,171.2 315.2,167.3 319,169.7 319.8,177.5 316.7,183 306.6,186.1 299.5,178.3Z"/>
<path d="M307.3,160.3 L309.7,158.8 313.6,160.3 318.3,161.1 317.5,165.8 312.8,167.3 308.1,165.8Z"/>
<path d="M317.5,165.8 L323.8,165 328.4,168.9 326.9,172 320.6,170.5Z"/>
<path d="M218,221.5 L238.8,219.7 249.7,218.6 252,220.8 241,246 222.4,243.8Z"/>
</g>
<g fill="#fff" stroke="#000" stroke-width="1.4" stroke-linejoin="round">
<path d="M231,270.5 L233.5,267.8 236,269.5 233.5,272.8Z"/>
<path d="M237.5,269.5 L240.5,267.5 244.5,268.5 241.5,271.5Z"/>
<path d="M296,277.5 L299.5,274.5 302.5,276.5 300,280.5 297,280.5Z"/>
<path d="M306,279 L311,275.5 316,277.5 311,282.5Z"/>
<path d="M316,278 L321,273.5 325,275 321,279Z"/>
<path d="M321.5,276 L326,271.5 330.5,273 326.5,277.5Z"/>
</g>
<g stroke="#000" fill="none" stroke-width="1.8">
<path d="M272,35.5 L285.75,52"/>
<path d="M285.9,55.5 C285.9,56.6 286,59.2 286,62 C286,64.8 285.8,69.2 286,72 C286.2,74.8 286.8,77.2 287.5,78.5 C288.2,79.8 289.5,80.1 290.5,80 C291.5,79.9 292.8,78.7 293.5,78 C294.2,77.3 294.8,76.3 295,76"/>
<path d="M295,76 C295,80 295,90.2 295,100 C295,109.8 294.7,128 295,135 C295.3,142 296,140 297,142 C298,144 299.3,145.7 301,147 C302.7,148.3 304.2,148.9 307,150 C309.8,151.1 314.3,152.2 318,153.5 C321.7,154.8 325.7,156.1 329,157.5 C332.3,158.9 335.5,160.7 338,162 C340.5,163.3 342.4,165 344,165.5 C345.6,166 346.6,165.4 347.5,165 C348.4,164.6 348.9,163.3 349.2,163"/>
<path d="M349.2,163 C349.2,169.2 349,185.5 349,200 C349,214.5 349,233.3 349,250 C349,266.7 349,286.7 349,300 C349,313.3 349.1,323.7 349,330 C348.9,336.3 349.2,335.8 348.5,338 C347.8,340.2 346.9,342.3 345,343.5 C343.1,344.7 340.2,345.4 337,345 C333.8,344.6 329.3,342.1 326,341 C322.7,339.9 321.3,338.6 317,338.2 C312.7,337.8 306.2,338.4 300,338.5 C293.8,338.6 285.4,338.5 280,338.6 C274.6,338.8 271.2,339.5 267.5,339.4 C263.8,339.3 260.1,338.4 258,337.8 C255.9,337.2 255.9,336.4 255,335.5 C254.1,334.6 253.1,333.2 252.7,332.7"/>
<path d="M252.7,332.7 C252.3,333.8 251.2,337.4 250.5,339 C249.8,340.6 250.6,340.4 248.8,342.5 C246.9,344.6 243,348.8 239.4,351.9 C235.8,355 231.1,358.8 226.9,361.2 C222.7,363.7 218.1,365.7 214.4,366.7 C210.8,367.7 207.2,367.8 205,367.5 C202.8,367.2 201.8,365.4 201,365 C200.2,364.6 200.4,364.8 200.3,364.8"/>
<path d="M200.3,364.8 C200.3,374 200.2,400.8 200.2,420 C200.1,439.2 200.1,463.3 200,480 C199.9,496.7 199.7,511.3 199.6,520 C199.5,528.7 199.7,528.5 199.4,532 C199.1,535.5 198.9,537.8 198,541 C197.1,544.2 195.9,546.9 194,551.2 C192.1,555.6 189.2,562.2 186.8,567 C184.4,571.8 182,576.2 179.6,580 C177.2,583.8 174.7,587 172.6,590 C170.5,593 168.6,596.3 167,598.3 C165.4,600.3 164.5,600.9 163.2,601.8 C161.9,602.6 159.7,603.1 159,603.4" stroke-width="1.4"/>
</g>
<g fill="#fff" stroke="#000" stroke-width="1.6"><circle cx="272" cy="35.5" r="3.4"/><circle cx="285.75" cy="52.3" r="3.4"/></g>
<g fill="#000"><circle cx="295" cy="76" r="2.6"/><circle cx="349.2" cy="162.9" r="2.6"/><circle cx="252.7" cy="332.7" r="2.6"/><circle cx="200.3" cy="364.8" r="2.6"/></g>
<path d="M177.4,30.5 L172.4,40.3 L182.6,40.3Z" fill="#fff" stroke="#000" stroke-width="1.5" stroke-linejoin="miter"/><circle cx="177.4" cy="37" r="0.9" fill="#000"/>
<path d="M456.5,63 C457.9,63.1 459.4,63.5 460.5,64.5 C461.6,65.5 462.8,67.1 463.3,69 C463.8,70.9 463.7,73.7 463.5,76 C463.3,78.3 462.7,81 462,83 C461.3,85 460.2,86.5 459.5,88 C458.8,89.5 457.6,90.5 457.5,92 C457.4,93.5 458.8,95.2 459,97 C459.2,98.8 459.1,101.3 458.5,103 C457.9,104.7 456.8,105.8 455.5,107 C454.2,108.2 452.3,109 451,110 C449.7,111 448.2,111.7 447.5,113 C446.8,114.3 447,116.5 446.5,118 C446,119.5 445.4,121.3 444.5,122 C443.6,122.7 442,122.6 441,122 C440,121.4 439.2,118.7 438.5,118.5 C437.8,118.3 437.4,120.8 436.5,121 C435.6,121.2 433.8,119.3 433,120 C432.2,120.7 432.1,123.3 431.5,125 C430.9,126.7 430.4,129.2 429.5,130 C428.6,130.8 426.8,130.5 426,129.5 C425.2,128.5 424.9,126.1 424.5,124 C424.1,121.9 423.2,119.1 423.5,117 C423.8,114.9 424.8,112.8 426,111.5 C427.2,110.2 429.9,110.1 431,109 C432.1,107.9 432.7,106.5 432.5,105 C432.3,103.5 430.7,101.8 430,100 C429.3,98.2 428.7,96.3 428.5,94 C428.3,91.7 428.2,88.2 429,86 C429.8,83.8 431.6,81.7 433,80.5 C434.4,79.3 436.7,80.2 437.5,79 C438.3,77.8 437.4,74.5 438,73 C438.6,71.5 439.8,70.3 441,70 C442.2,69.7 443.7,71.4 445,71 C446.3,70.6 447.8,68.7 449,67.5 C450.2,66.3 450.8,64.8 452,64 C453.2,63.2 455.1,62.9 456.5,63Z" fill="#666"/>
<g stroke="#000" fill="none" stroke-width="1.4">
<path d="M465.6,92.5 C468.1,92.2 476.7,91.3 480.8,91 C484.9,90.7 485.7,91.2 490,90.9 C494.3,90.6 501.1,89.8 506.7,89.2 C512.3,88.7 519.5,88.1 523.4,87.6 C527.3,87 527.9,86.7 530.1,85.9 C532.3,85.2 534.8,83.8 536.8,83.1 C538.8,82.4 540.1,81.7 541.8,81.7 C543.5,81.8 545.5,82.7 546.9,83.4 C548.3,84.1 548.5,85.4 550.2,85.9 C551.9,86.5 555.4,86.6 556.9,86.7 C558.4,86.8 559,86.5 559.4,86.4"/>
<path d="M456.5,109.2 C458,109 461.6,108.1 465.6,107.7 C469.7,107.3 476.7,107.2 480.8,106.9 C484.9,106.6 485.7,106.3 490,106 C494.3,105.7 501.1,105.4 506.7,105.1 C512.3,104.8 519.8,105 523.4,104.3 C527,103.6 527.2,102 528.5,101 C529.8,100 529.9,99.2 531,98.4 C532.1,97.6 533.4,96.8 535.2,96.4 C537,96 540.4,95.6 541.8,95.9 C543.2,96.2 543.2,97.6 543.5,98.4 C543.8,99.2 543.4,100.3 543.8,101 C544.2,101.7 544.4,102.6 546,102.6 C547.6,102.6 552.2,101.3 553.5,101"/>
<path d="M438.2,131.5 C440.2,131.2 445.8,130.4 450.4,129.7 C455,129 460.5,128 465.6,127.4 C470.7,126.8 476.7,126.6 480.8,125.9 C484.9,125.2 485.7,124.3 490,123.5 C494.3,122.7 501.7,121.7 506.7,121 C511.7,120.3 517.3,120 520.1,119.3 C522.9,118.6 522.4,117.6 523.4,116.8 C524.4,116 524.9,114.9 526,114.3 C527.1,113.7 528,113.5 530.1,113.2 C532.2,112.9 536.8,112.4 538.5,112.7 C540.2,113 539.8,114.1 540.2,115.2 C540.6,116.3 540.2,118.6 541,119.3 C541.8,120 543.7,119.4 545.2,119.3 C546.7,119.2 549.4,118.9 550.2,118.8"/>
</g>
<path d="M561.9,73.4 C561.8,74.8 561.5,78.9 561,81.7 C560.5,84.5 559.6,87.3 558.6,90.1 C557.6,92.9 556.2,95.6 555.2,98.4 C554.2,101.2 553.4,103.7 552.7,106.8 C552,109.9 551.4,113.2 551,116.8 C550.6,120.4 550.3,124.6 550.2,128.5 C550.1,132.4 550.2,138.1 550.2,140" stroke="#000" fill="none" stroke-width="1.8"/>
<path d="M434.7,116 C434.4,118 433.6,124.1 432.9,128.2 C432.2,132.2 430.5,138 430.6,140.3 C430.7,142.6 432.2,141.1 433.7,141.9 C435.2,142.7 437.5,143.9 439.8,144.9 C442.1,145.9 445.1,147 447.4,148 C449.7,149 452.4,150.5 453.4,151" stroke="#000" fill="none" stroke-width="1.8"/>
<path d="M480.5,115 L473.5,141 M472.5,135.6 L473.5,141 L477.1,136.8" stroke="#000" fill="none" stroke-width="1.2"/>
<path d="M509.2,112.7 L502.5,138.6 M501.4,133.2 L502.5,138.6 L506.1,134.4" stroke="#000" fill="none" stroke-width="1.2"/>
<path d="M546.9,105.1 L540.2,131.9 M539.1,126.5 L540.2,131.9 L543.7,127.7" stroke="#000" fill="none" stroke-width="1.2"/>
<path d="M462,130.5 L456.8,139.5 L467.2,139.5Z" fill="#fff" stroke="#000" stroke-width="1.3"/><circle cx="462" cy="136.5" r="0.8" fill="#000"/>
<g stroke="#000" fill="none" stroke-width="1.3"><circle cx="526.8" cy="127.7" r="2.6" fill="#fff"/><circle cx="531.5" cy="135" r="2.4" fill="#fff"/><path d="M525,130.5 L524.5,137 L523,143"/><path d="M533.5,128.5 L534,137 L534.5,142.5"/><path d="M529,131 L528.5,143"/></g>
<path d="M450,150.2 C450.3,149.5 454.7,148.9 456,148.5 C457.3,148.1 458.2,147.7 460,147.2 C461.8,146.7 466.9,144.8 469.4,144.4 C471.9,144 476.2,143.9 478.7,143.9 C481.2,143.9 485.6,144.2 488.1,144.4 C490.6,144.6 495,145.4 497.5,145.3 C500,145.2 504.9,144 506.9,143.9 C508.9,143.8 510.8,144.4 512.5,144.4 C514.2,144.4 518.3,143.6 520,143.6 C521.7,143.6 523.2,144.2 525.2,144.2 C527.2,144.2 532.6,143.7 535.3,143.7 C538,143.7 543.9,144.4 545.5,144.2 C547.1,144 546.4,142.7 547.5,142.2 C548.6,141.7 551.7,140.5 553.6,140.2 C555.5,139.9 560.2,139.6 561.7,139.6 C563.2,139.6 563.8,139.7 564.7,140.2 C565.6,140.7 567.8,142.3 568.8,143.2 C569.8,144.1 571.7,145.9 572.4,147.3 C573.1,148.7 573.8,151.8 573.9,153.4 C574,155 573.4,158.1 572.9,159.4 C572.4,160.7 571,162.6 569.8,163.5 C568.6,164.4 565.6,165.5 563.7,166 C561.8,166.5 558,167 555.6,167.1 C553.2,167.2 548.2,166.6 545.5,166.5 C542.8,166.4 538.7,166.2 535.3,166.3 C531.9,166.4 523.8,166.8 520,166.9 C516.2,167 509.9,166.9 506.9,166.9 C503.9,166.9 500,167 497.5,166.9 C495,166.8 490.6,166.7 488.1,166.4 C485.6,166.1 481.2,165.6 478.7,165 C476.2,164.4 471.9,163.3 469.4,162.2 C466.9,161.1 462,157.8 460,156.6 C458,155.4 455.4,154.4 454.1,153.5 C452.8,152.6 449.7,150.9 450,150.2Z" fill="#fff" stroke="#000" stroke-width="1.8"/>
<path d="M545.5,144.2 C545.6,144.6 545.7,146.2 546,147 C546.3,147.8 547.3,149.6 547.5,150" fill="none" stroke="#000" stroke-width="1.3"/>
<path d="M545.5,153.4 C546,151.9 546.8,150.9 548.5,150.3 C550.2,149.7 552.7,149.3 555.6,149.8 C558.5,150.3 562.9,152.3 565.8,153.4 C568.7,154.5 571.9,154.9 572.9,156.4 C573.9,157.9 573.1,161 571.9,162.5 C570.7,164 568.5,164.9 565.8,165.5 C563.1,166.1 558.5,166.2 555.6,166 C552.7,165.8 550.2,165.6 548.5,164.5 C546.8,163.4 546,161.2 545.5,159.4 C545,157.6 545,154.9 545.5,153.4Z" fill="#999" stroke="#000" stroke-width="1.3"/>
<path d="M462,147.4 l0,2.2 M462,157.0 l0,-2.2 M467,145.9 l0,2.2 M467,160.0 l0,-2.2 M472,145.1 l0,2.2 M472,162.2 l0,-2.2 M477,144.8 l0,2.2 M477,163.7 l0,-2.2 M482,144.9 l0,2.2 M482,164.7 l0,-2.2 M487,145.1 l0,2.2 M487,165.4 l0,-2.2 M492,145.6 l0,2.2 M492,165.8 l0,-2.2 M497,146.1 l0,2.2 M497,166.1 l0,-2.2 M502,145.4 l0,2.2 M502,166.1 l0,-2.2 M507,144.7 l0,2.2 M507,166.1 l0,-2.2 M512,145.2 l0,2.2 M512,166.1 l0,-2.2 M517,144.7 l0,2.2 M517,166.1 l0,-2.2 M522,144.4 l0,2.2 M522,166.1 l0,-2.2 M527,144.4 l0,2.2 M527,166.0 l0,-2.2 M532,144.5 l0,2.2 M532,165.9 l0,-2.2 M537,144.6 l0,2.2 M537,165.8 l0,-2.2 M542,144.8 l0,2.2 M542,165.7 l0,-2.2 M551,141.9 l0,2.2 M555,140.9 l0,2.2 M559,140.6 l0,2.2 M563,140.7 l0,2.2 M567,142.7 l0,2.2 M571,146.5 l0,2.2" stroke="#000" stroke-width="0.9" fill="none"/>
<g fill="#fff" stroke="#000" stroke-width="1.3">
<path d="M474,152.8 L476.9,147.7 480.2,149.1 482,152.8 479.2,157 475,154.2Z"/>
<path d="M490,153.3 L492.8,151.4 497,153.7 495.6,158.4 491.9,159.4 489.1,157Z"/>
<path d="M498.4,152.8 L505,149 512.5,154.7 510.6,159.4 501.2,163.1 498.4,157.5Z"/>
<path d="M513.4,154.5 L516,151.4 519.1,150.8 522.1,153.4 520.1,156.9 516,157.5Z"/>
<path d="M527.2,157.4 L531.2,153.9 538.4,155.4 543.4,156.4 542.4,159.4 535.3,160.5 528.2,159.4Z"/>
<path d="M537.8,152.8 L540.4,149.8 543.4,150.3 543.9,152.3 540.4,153.9Z"/>
<path d="M535.8,164.5 L539.4,161.5 544.4,162 545.5,165 540.4,166Z"/>
</g>
<ellipse cx="468.9" cy="156.1" rx="1.3" ry="3" transform="rotate(35 468.9 156.1)" fill="#fff" stroke="#000" stroke-width="1.1"/>
<g stroke="#000" fill="none" stroke-width="1.5">
<path d="M429.2,330.5 C431.3,330.5 439.6,330.6 442,330.5 C444.4,330.4 442.2,329.4 443.5,329.7 C444.8,329.9 448.1,331.4 450,332 C451.9,332.6 451.7,333.2 455,333.5 C458.3,333.8 465,333.4 470,333.5 C475,333.6 482.5,334.2 485,334.4"/>
<path d="M434,342.5 C435.8,342.1 440.7,340.8 445,340 C449.3,339.2 456.2,338.4 460,338 C463.8,337.6 466,337.4 468,337.5 C470,337.6 471.3,338.3 472,338.5"/>
</g>
<path d="M470.5,345 C470.8,343.9 471.7,342.5 473,341.8 C474.3,341.1 477.6,340.4 480,339.8 C482.4,339.2 487.7,338.2 491,337.6 C494.3,337 501.8,336 505,335.5 C508.2,335 511.7,334.3 515,334 C518.3,333.7 526,333.7 530,333 C534,332.3 541.9,330.1 545,329 C548.1,327.9 551,325.4 553,325 C555,324.6 557.1,325.5 560,326 C562.9,326.5 571,328.1 575,329 C579,329.9 587.4,331.9 590,333 C592.6,334.1 594,335.8 594.5,337 C595,338.2 594.3,340.5 594,342 C593.7,343.5 592.4,346.3 592,348 C591.6,349.7 591.5,353.4 591,355 C590.5,356.6 588.8,359 588,360 C587.2,361 587.4,362.4 585,362.5 C582.6,362.6 574,361.3 570,361 C566,360.7 559,360.1 555,360 C551,359.9 545.3,360.4 540,360.5 C534.7,360.6 521.7,361.2 515,361 C508.3,360.8 494.9,359.7 490,359 C485.1,358.3 480.5,357.2 478,356 C475.5,354.8 472,351.5 471,350 C470,348.5 470.2,346.1 470.5,345Z" fill="#999" stroke="#000" stroke-width="1.8"/>
<path d="M560,328 C561.5,327.4 567.3,329.1 570,329.5 C572.7,329.9 577.3,330.5 580,331 C582.7,331.5 588.6,332.4 590,333.5 C591.4,334.6 591.2,337.9 590.5,339 C589.8,340.1 586.7,341.5 585,342 C583.3,342.5 580,342.6 578,342.5 C576,342.4 572.1,342 570,341.5 C567.9,341 563.5,340 562,339 C560.5,338 559.3,335.5 559,334 C558.7,332.5 558.5,328.6 560,328Z" fill="#fff" stroke="#000" stroke-width="1.5"/>
<path d="M556,358 C556.3,356.7 557.2,351.5 558,350 C558.8,348.5 560.9,347.2 562,347 C563.1,346.8 564.9,348.4 566,348.5 C567.1,348.6 568.8,347.4 570,347.5 C571.2,347.6 573.7,348.9 575,349 C576.3,349.1 578.3,348.4 580,348.5 C581.7,348.6 586.6,349.5 588,350 C589.4,350.5 590.4,350.9 590.5,352 C590.6,353.1 589.6,356.7 589,358 C588.4,359.3 588.5,361.6 586,362 C583.5,362.4 574,361.3 570,361 C566,360.7 557.9,360.4 556,360 C554.1,359.6 555.7,359.3 556,358Z" fill="#fff" stroke="#000" stroke-width="1.5"/>
<path d="M563,337 l1.5,-1.5 M570,340 l0,-2 M577,341 l0,-2 M584,340 l-1,-2 M562,331 l2,0 M562,349.5 l1,2 M568,349 l0,2 M574,350 l0,2 M580,350 l0,2 M586,351 l-1,2 M558,355 l2,0" stroke="#000" stroke-width="0.8" fill="none"/>
<path d="M468,337.6 L474,334.5 L485,334.4 L493,336.8 L480,339.8 L472.5,341.8Z" fill="#fff"/>
<path d="M474,334.5 L485,334.4 L493,336.8" fill="none" stroke="#000" stroke-width="1.3"/>
<path d="M453,339 C454.5,338.9 459.6,338.3 462,338.2 C464.4,338.1 465.6,338 467.2,338.3 C468.8,338.6 470.4,339.4 471.5,340 C472.6,340.6 473.2,341.7 473.5,342" fill="none" stroke="#000" stroke-width="1.5"/>
<g fill="#fff" stroke="#000" stroke-width="1.1"><ellipse cx="479" cy="337.2" rx="2" ry="1.5"/><ellipse cx="484" cy="336.6" rx="1.8" ry="1.8"/><ellipse cx="488.5" cy="336.4" rx="1.6" ry="1.6"/></g>
<path d="M401.2,475.6 L410,471 420,470 430,469.5 440,467 450,465.6 470,466 480,464 490,462 500,462.5 520,462 530,461.5 552,462.5 552,482 545,483 530,482 515,481 505,482 490,481 470,482 440,482 432,481 420,478.5 410,477Z" fill="#999"/>
<rect x="552" y="462.5" width="12" height="19.5" fill="#999"/>
<path d="M401.2,475.6 C401.2,475 408.1,471.6 410,471 C411.9,470.4 418,470.1 420,470 C422,469.9 428.3,469.6 430,469.5 C431.7,469.4 436.5,468.1 437,468.5 C437.5,468.9 435.1,472.8 435,474 C434.9,475.2 436.8,479.8 436.5,480.5 C436.2,481.2 433.6,481.2 432,481 C430.4,480.8 422.2,478.9 420,478.5 C417.8,478.1 411.9,477.3 410,477 C408.1,476.7 401.2,476.2 401.2,475.6Z" fill="#fff"/>
<g stroke="#000" fill="none" stroke-width="1.6">
<path d="M401.2,475.6 C402.7,474.8 406.9,471.9 410,471 C413.1,470.1 416.7,470.2 420,470 C423.3,469.8 426.7,470 430,469.5 C433.3,469 436.7,467.6 440,467 C443.3,466.4 445,465.8 450,465.6 C455,465.4 465,466.3 470,466 C475,465.7 476.7,464.7 480,464 C483.3,463.3 486.7,462.2 490,462 C493.3,461.8 495,462.5 500,462.5 C505,462.5 515,462.2 520,462 C525,461.8 524.7,461.4 530,461.5 C535.3,461.6 548.3,462.3 552,462.5"/>
<path d="M401.2,475.8 C402.7,476 406.9,476.6 410,477 C413.1,477.4 416.3,477.8 420,478.5 C423.7,479.2 428.7,480.4 432,481 C435.3,481.6 433.7,481.8 440,482 C446.3,482.2 461.7,482.2 470,482 C478.3,481.8 484.2,481 490,481 C495.8,481 500.8,482 505,482 C509.2,482 510.8,481 515,481 C519.2,481 525,481.7 530,482 C535,482.3 541.7,483.1 545,483 C548.3,482.9 549.2,481.8 550,481.5"/>
<path d="M558,462.5 L563,462.5 M558,482 L563,482"/>
<path d="M549.5,463 C549.7,464.2 550.4,467.7 550.5,470 C550.6,472.3 550.3,475 550,477 C549.7,479 548.8,481.2 548.5,482" stroke-width="1.3"/>
<path d="M437,468.5 C436.7,469.4 435.1,472 435,474 C434.9,476 436.2,479.4 436.5,480.5" stroke-width="1.3"/>
</g>
<g fill="#fff" stroke="#000" stroke-width="1.4"><ellipse cx="413.5" cy="473.5" rx="2.4" ry="1.7"/><ellipse cx="418.5" cy="475.5" rx="2" ry="1.6"/><ellipse cx="421.5" cy="472.8" rx="2" ry="1.6"/><ellipse cx="426" cy="474.5" rx="2.4" ry="1.8"/><ellipse cx="431.5" cy="473.8" rx="2" ry="2.2"/></g>
<g stroke="#000" stroke-width="2" fill="none">
<path d="M45,37 H36 V604 H45"/>
<path d="M36,178.3 H45 M36,320.1 H45 M36,462 H45"/>
</g>
<g font-size="18">
<text x="54.5" y="42">0m</text>
<text x="49" y="183.6">10m</text>
<text x="49.5" y="325.5">20m</text>
<text x="49.5" y="467.2">30m</text>
<text x="49.5" y="608.6">40m</text>
</g>
<g stroke="#000" stroke-width="2" fill="none">
<path d="M106.6,222.9 H151.4 V231.3 M116,218 L107,222.9 L116.5,227.5"/>
</g>
<text x="119.5" y="242.6" font-size="18">N E</text>
<text x="160" y="25.3" font-size="13">tag</text>
<text x="333" y="106.7" font-size="18">p 7</text>
<text x="383" y="262.1" font-size="18">p 13</text>
<text x="273" y="493.6" font-size="18">p 19</text>
<text x="381" y="370.2" font-size="13">snow</text>
<text x="381" y="386.2" font-size="13">bridge</text>
<path d="M426.1,214.2 V222.3 H568.7 V214.2" stroke="#000" stroke-width="2" fill="none"/>
<text x="421.7" y="209.6" font-size="18">0</text>
<text x="470" y="209.6" font-size="18">metre</text>
<text x="559" y="209.6" font-size="18">10</text>
<rect x="285" y="516" width="353" height="140" fill="#fff"/><path d="M284.6,656 V515 H638" fill="none" stroke="#000" stroke-width="1.8"/>
<text x="292" y="540.2" font-size="22.6" font-weight="bold" xml:space="preserve">1623/200  Lost Rucksack Cave</text>
<text x="293.5" y="566.5" font-size="22.6" font-weight="bold">Verlorener Rucksack Schacht</text>
<text x="292" y="594.2" font-size="20.2">Loser Plateau, Totes Gebirge, Austria</text>
<text x="292" y="620.3" font-size="20">35478 E, 83053 N, Alt. 1646m</text>
<text x="292" y="646.2" font-size="20">Explored C.U.C.C. 1993, 1998</text>
<text x="3" y="652.7" font-size="10.2">Wookey/AERW</text>
</svg>
</body></html>
